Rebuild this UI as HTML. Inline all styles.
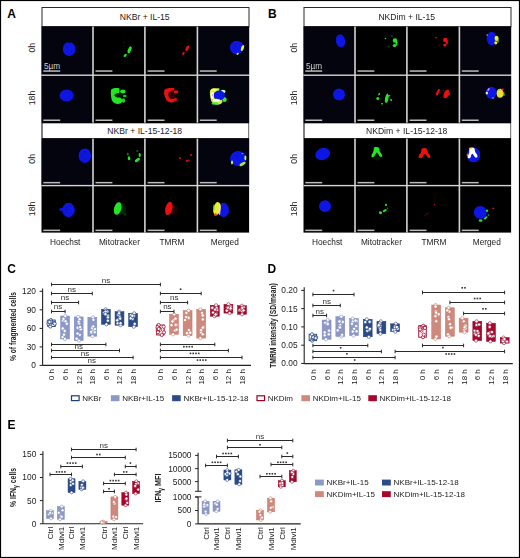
<!DOCTYPE html>
<html><head><meta charset="utf-8"><title>Figure</title>
<style>
html,body{margin:0;padding:0;background:#fff;}
body{width:520px;height:558px;overflow:hidden;font-family:"Liberation Sans",sans-serif;}
svg{display:block;}
text{font-family:"Liberation Sans",sans-serif;}
</style></head><body>
<svg width="520" height="558" viewBox="0 0 520 558" font-family="Liberation Sans, sans-serif"><defs><filter id="blur" x="-20%" y="-20%" width="140%" height="140%"><feGaussianBlur stdDeviation="0.45"/></filter></defs><rect x="0" y="0" width="520" height="558" fill="#fff"/>
<text x="7.20" y="17.60" font-size="12" text-anchor="start" fill="#000" font-weight="bold" >A</text>
<text x="268.00" y="17.60" font-size="12" text-anchor="start" fill="#000" font-weight="bold" >B</text>
<rect x="42.00" y="7.50" width="207.00" height="19.20" fill="#fff" stroke="#2a2a2a" stroke-width="1" />
<text x="144.70" y="19.80" font-size="8.6" text-anchor="middle" fill="#222" font-weight="normal" >NKBr + IL-15</text>
<rect x="41.50" y="26.60" width="207.60" height="206.00" fill="#000" stroke="none" stroke-width="0" />
<rect x="41.70" y="26.60" width="50.80" height="48.00" fill="#04040f" stroke="none" stroke-width="0" />
<rect x="41.70" y="76.00" width="50.80" height="46.70" fill="#04040f" stroke="none" stroke-width="0" />
<rect x="41.70" y="138.60" width="50.80" height="46.40" fill="#04040f" stroke="none" stroke-width="0" />
<rect x="198.20" y="26.60" width="50.90" height="48.00" fill="#04040f" stroke="none" stroke-width="0" />
<rect x="198.20" y="76.00" width="50.90" height="46.70" fill="#04040f" stroke="none" stroke-width="0" />
<rect x="198.20" y="138.60" width="50.90" height="46.40" fill="#04040f" stroke="none" stroke-width="0" />
<rect x="42.50" y="123.30" width="206.00" height="14.80" fill="#fff" stroke="none" stroke-width="0" />
<text x="144.70" y="134.00" font-size="8.6" text-anchor="middle" fill="#222" font-weight="normal" >NKBr + IL-15-12-18</text>
<rect x="92.20" y="26.60" width="1.60" height="96.10" fill="#d4d4d4" stroke="none" stroke-width="0" />
<rect x="144.10" y="26.60" width="1.60" height="96.10" fill="#d4d4d4" stroke="none" stroke-width="0" />
<rect x="196.60" y="26.60" width="1.60" height="96.10" fill="#d4d4d4" stroke="none" stroke-width="0" />
<rect x="92.20" y="138.60" width="1.60" height="94.00" fill="#d4d4d4" stroke="none" stroke-width="0" />
<rect x="144.10" y="138.60" width="1.60" height="94.00" fill="#d4d4d4" stroke="none" stroke-width="0" />
<rect x="196.60" y="138.60" width="1.60" height="94.00" fill="#d4d4d4" stroke="none" stroke-width="0" />
<rect x="41.50" y="74.50" width="207.60" height="1.40" fill="#d4d4d4" stroke="none" stroke-width="0" />
<rect x="41.50" y="184.90" width="207.60" height="1.40" fill="#d4d4d4" stroke="none" stroke-width="0" />
<rect x="43.30" y="70.30" width="16.90" height="1.50" fill="#bcbcbc" stroke="none" stroke-width="0" />
<rect x="95.50" y="70.30" width="16.90" height="1.50" fill="#bcbcbc" stroke="none" stroke-width="0" />
<rect x="147.60" y="70.30" width="16.90" height="1.50" fill="#bcbcbc" stroke="none" stroke-width="0" />
<rect x="199.80" y="70.30" width="16.90" height="1.50" fill="#bcbcbc" stroke="none" stroke-width="0" />
<rect x="43.30" y="119.50" width="16.90" height="1.50" fill="#bcbcbc" stroke="none" stroke-width="0" />
<rect x="95.50" y="119.50" width="16.90" height="1.50" fill="#bcbcbc" stroke="none" stroke-width="0" />
<rect x="147.60" y="119.50" width="16.90" height="1.50" fill="#bcbcbc" stroke="none" stroke-width="0" />
<rect x="199.80" y="119.50" width="16.90" height="1.50" fill="#bcbcbc" stroke="none" stroke-width="0" />
<rect x="43.30" y="181.90" width="16.90" height="1.50" fill="#bcbcbc" stroke="none" stroke-width="0" />
<rect x="95.50" y="181.90" width="16.90" height="1.50" fill="#bcbcbc" stroke="none" stroke-width="0" />
<rect x="147.60" y="181.90" width="16.90" height="1.50" fill="#bcbcbc" stroke="none" stroke-width="0" />
<rect x="199.80" y="181.90" width="16.90" height="1.50" fill="#bcbcbc" stroke="none" stroke-width="0" />
<rect x="43.30" y="229.60" width="16.90" height="1.50" fill="#bcbcbc" stroke="none" stroke-width="0" />
<rect x="95.50" y="229.60" width="16.90" height="1.50" fill="#bcbcbc" stroke="none" stroke-width="0" />
<rect x="147.60" y="229.60" width="16.90" height="1.50" fill="#bcbcbc" stroke="none" stroke-width="0" />
<rect x="199.80" y="229.60" width="16.90" height="1.50" fill="#bcbcbc" stroke="none" stroke-width="0" />
<text x="44.00" y="69.10" font-size="8.2" text-anchor="start" fill="#d0d0d0" font-weight="textLength="15.2" lengthAdjust="spacingAndGlyphs"" >5µm</text>
<g filter="url(#blur)">
<ellipse cx="69.1" cy="49.0" rx="6.3" ry="7.0" fill="#0b17e4" opacity="1" transform="rotate(0 69.1 49.0)"/>
<ellipse cx="67" cy="47" rx="1.6" ry="1.6" fill="#0610a8" opacity="0.5" transform="rotate(0 67 47)"/>
<ellipse cx="71.5" cy="51.5" rx="1.5" ry="1.2" fill="#0610a8" opacity="0.5" transform="rotate(0 71.5 51.5)"/>
<ellipse cx="69.5" cy="42.8" rx="1.3" ry="1.0" fill="#000" opacity="0.5" transform="rotate(0 69.5 42.8)"/>
<ellipse cx="129.6" cy="49.8" rx="1.6" ry="3.6" fill="#22e622" opacity="1" transform="rotate(22 129.6 49.8)"/>
<ellipse cx="125.2" cy="55.4" rx="1.1" ry="1.9" fill="#22e622" opacity="1" transform="rotate(45 125.2 55.4)"/>
<ellipse cx="124" cy="42.5" rx="0.6" ry="0.6" fill="#22e622" opacity="0.35" transform="rotate(0 124 42.5)"/>
<ellipse cx="124" cy="46" rx="0.6" ry="0.6" fill="#22e622" opacity="0.3" transform="rotate(0 124 46)"/>
<ellipse cx="187.3" cy="48.2" rx="1.4" ry="3.0" fill="#f01010" opacity="1" transform="rotate(25 187.3 48.2)"/>
<ellipse cx="183.4" cy="53.5" rx="1.1" ry="1.5" fill="#f01010" opacity="1" transform="rotate(40 183.4 53.5)"/>
<ellipse cx="236.7" cy="47.5" rx="6.8" ry="6.7" fill="#0b17e4" opacity="1" transform="rotate(0 236.7 47.5)"/>
<ellipse cx="235" cy="46" rx="1.8" ry="1.5" fill="#0610a8" opacity="0.5" transform="rotate(0 235 46)"/>
<ellipse cx="242.5" cy="48.0" rx="1.4" ry="3.1" fill="#e8f020" opacity="1" transform="rotate(20 242.5 48.0)"/>
<ellipse cx="237.7" cy="53.8" rx="1.3" ry="0.9" fill="#b0f040" opacity="1" transform="rotate(-40 237.7 53.8)"/>
<ellipse cx="66.6" cy="95.6" rx="7.1" ry="6.0" fill="#0b17e4" opacity="1" transform="rotate(0 66.6 95.6)"/>
<path d="M111,90 C112,88 117,87.5 119.5,88.5 L119,93 C117,93 115,93.5 114.5,95 C114.5,97 117,97.5 119,97.5 C121,97.5 122.5,99 122.5,101 C122,103 119,104.5 117,104 C114,103.5 112,101.5 111.5,99 C111,96 110.5,93 111,90 Z" fill="#22e622" opacity="1"/>
<ellipse cx="122.8" cy="91.4" rx="2.7" ry="2.0" fill="#22e622" opacity="1" transform="rotate(0 122.8 91.4)"/>
<ellipse cx="124.8" cy="96.0" rx="1.9" ry="1.3" fill="#22e622" opacity="0.8" transform="rotate(0 124.8 96.0)"/>
<ellipse cx="123.5" cy="100.5" rx="1.6" ry="2.2" fill="#22e622" opacity="0.9" transform="rotate(0 123.5 100.5)"/>
<ellipse cx="119" cy="95" rx="4" ry="3" fill="#22e622" opacity="0.15" transform="rotate(0 119 95)"/>
<path d="M164.5,90 C166,88 172,87.5 174.5,88.5 L174,90.5 C171,90.5 169.5,91.5 168.5,93 C168,95.5 168.5,97.5 170,98.5 C172,99 174,98.5 175,99.5 C175,101.5 173,102.8 170.5,102.5 C167.5,102 166,100 165,97 C164,94 163.8,92 164.5,90 Z" fill="#f01010" opacity="1"/>
<ellipse cx="176" cy="91.8" rx="2.2" ry="1.5" fill="#f01010" opacity="1" transform="rotate(0 176 91.8)"/>
<ellipse cx="175.5" cy="99.5" rx="1.5" ry="2.0" fill="#f01010" opacity="0.85" transform="rotate(0 175.5 99.5)"/>
<ellipse cx="172" cy="95" rx="4" ry="3.5" fill="#f01010" opacity="0.2" transform="rotate(0 172 95)"/>
<path d="M210,90.5 C211.5,88.2 216.5,87.8 219.5,88.6 L219,92.5 C217,92.5 215,93.5 214.5,95 C214.5,97 217,98 219,98.5 C221,98.5 222.5,100 222.5,102 C222,104 218.5,105 216,104.5 C213,104 211.2,102 210.8,99.5 C210.3,96.5 209.5,93.5 210,90.5 Z" fill="#c8f040" opacity="1"/>
<ellipse cx="224.5" cy="99.5" rx="2.2" ry="2.5" fill="#40e040" opacity="1" transform="rotate(0 224.5 99.5)"/>
<ellipse cx="223" cy="91.5" rx="2.6" ry="1.8" fill="#c0fff0" opacity="1" transform="rotate(0 223 91.5)"/>
<ellipse cx="219.2" cy="95.4" rx="5.8" ry="4.8" fill="#0b17e4" opacity="1" transform="rotate(0 219.2 95.4)"/>
<ellipse cx="212.3" cy="95.5" rx="1.6" ry="3.4" fill="#ffffff" opacity="0.9" transform="rotate(0 212.3 95.5)"/>
<ellipse cx="212.6" cy="95.3" rx="0.8" ry="1.4" fill="#ff80ff" opacity="0.8" transform="rotate(0 212.6 95.3)"/>
<ellipse cx="216.5" cy="100.2" rx="3.5" ry="1.5" fill="#ffffff" opacity="0.85" transform="rotate(0 216.5 100.2)"/>
<ellipse cx="214" cy="89.8" rx="3" ry="1.6" fill="#f0ff60" opacity="0.9" transform="rotate(0 214 89.8)"/>
<ellipse cx="215" cy="103.5" rx="3.5" ry="1.2" fill="#40f040" opacity="0.9" transform="rotate(0 215 103.5)"/>
<ellipse cx="84.8" cy="155.7" rx="6.2" ry="7.2" fill="#0b17e4" opacity="1" transform="rotate(0 84.8 155.7)"/>
<ellipse cx="84.5" cy="152.5" rx="1.8" ry="1.5" fill="#0610a8" opacity="0.55" transform="rotate(0 84.5 152.5)"/>
<ellipse cx="85.5" cy="158.5" rx="1.5" ry="1.3" fill="#0610a8" opacity="0.55" transform="rotate(0 85.5 158.5)"/>
<ellipse cx="82" cy="156" rx="1.2" ry="2" fill="#0610a8" opacity="0.4" transform="rotate(0 82 156)"/>
<ellipse cx="129.0" cy="158.2" rx="1.3" ry="2.0" fill="#22e622" opacity="1" transform="rotate(0 129.0 158.2)"/>
<ellipse cx="127.8" cy="154.0" rx="0.9" ry="1.5" fill="#22e622" opacity="0.55" transform="rotate(0 127.8 154.0)"/>
<ellipse cx="139.7" cy="154.9" rx="1.1" ry="2.0" fill="#22e622" opacity="1" transform="rotate(0 139.7 154.9)"/>
<ellipse cx="137.3" cy="151.0" rx="1.1" ry="0.8" fill="#22e622" opacity="0.6" transform="rotate(0 137.3 151.0)"/>
<ellipse cx="137.4" cy="159.9" rx="3.0" ry="1.5" fill="#22e622" opacity="1" transform="rotate(-35 137.4 159.9)"/>
<ellipse cx="180" cy="158" rx="0.9" ry="0.9" fill="#f01010" opacity="1" transform="rotate(0 180 158)"/>
<ellipse cx="187" cy="161" rx="1.1" ry="0.9" fill="#f01010" opacity="1" transform="rotate(0 187 161)"/>
<ellipse cx="188.8" cy="160.2" rx="0.8" ry="0.7" fill="#f01010" opacity="1" transform="rotate(0 188.8 160.2)"/>
<ellipse cx="191" cy="155" rx="0.9" ry="1.0" fill="#f01010" opacity="1" transform="rotate(0 191 155)"/>
<ellipse cx="238.1" cy="158.5" rx="8.0" ry="7.6" fill="#0b17e4" opacity="1" transform="rotate(0 238.1 158.5)"/>
<ellipse cx="237" cy="156" rx="2" ry="1.8" fill="#0610a8" opacity="0.4" transform="rotate(0 237 156)"/>
<ellipse cx="232.0" cy="162.4" rx="1.0" ry="2.0" fill="#b0ff40" opacity="1" transform="rotate(0 232.0 162.4)"/>
<ellipse cx="245.4" cy="158.0" rx="1.0" ry="2.4" fill="#c0ff40" opacity="1" transform="rotate(0 245.4 158.0)"/>
<ellipse cx="242.6" cy="164.0" rx="3.4" ry="1.4" fill="#a0f030" opacity="1" transform="rotate(-30 242.6 164.0)"/>
<ellipse cx="242.5" cy="153.5" rx="1.2" ry="0.8" fill="#40e0c0" opacity="0.6" transform="rotate(0 242.5 153.5)"/>
<ellipse cx="68.5" cy="210.0" rx="6.3" ry="7.2" fill="#0b17e4" opacity="1" transform="rotate(0 68.5 210.0)"/>
<ellipse cx="61.5" cy="209.5" rx="2.2" ry="1.4" fill="#0b17e4" opacity="1" transform="rotate(0 61.5 209.5)"/>
<ellipse cx="66.5" cy="209" rx="1.8" ry="2.2" fill="#0610a8" opacity="0.6" transform="rotate(0 66.5 209)"/>
<ellipse cx="70" cy="205.5" rx="1.5" ry="1.2" fill="#0610a8" opacity="0.5" transform="rotate(0 70 205.5)"/>
<ellipse cx="71" cy="213.5" rx="1.6" ry="1.3" fill="#0610a8" opacity="0.4" transform="rotate(0 71 213.5)"/>
<ellipse cx="117.7" cy="208.5" rx="3.6" ry="6.5" fill="#22e622" opacity="1" transform="rotate(15 117.7 208.5)"/>
<ellipse cx="122" cy="209" rx="4" ry="6" fill="#22e622" opacity="0.15" transform="rotate(0 122 209)"/>
<ellipse cx="125" cy="214.5" rx="1" ry="1" fill="#22e622" opacity="0.35" transform="rotate(0 125 214.5)"/>
<ellipse cx="168.8" cy="208.5" rx="3.4" ry="6.7" fill="#f01010" opacity="1" transform="rotate(15 168.8 208.5)"/>
<ellipse cx="173.5" cy="209.5" rx="4" ry="5.5" fill="#f01010" opacity="0.15" transform="rotate(0 173.5 209.5)"/>
<ellipse cx="223.5" cy="210.0" rx="5.5" ry="7.2" fill="#0b17e4" opacity="1" transform="rotate(0 223.5 210.0)"/>
<ellipse cx="217.0" cy="208.7" rx="3.6" ry="6.7" fill="#e8f020" opacity="1" transform="rotate(12 217.0 208.7)"/>
<ellipse cx="219.5" cy="209.5" rx="1.0" ry="5.5" fill="#ffd0ff" opacity="0.8" transform="rotate(0 219.5 209.5)"/>
<ellipse cx="215.5" cy="214.5" rx="1.5" ry="1.5" fill="#ff4020" opacity="0.8" transform="rotate(0 215.5 214.5)"/>
<ellipse cx="213.8" cy="207.5" rx="0.8" ry="3" fill="#40e040" opacity="0.8" transform="rotate(0 213.8 207.5)"/>
</g>
<text transform="translate(34.60,47.70) rotate(-90)" font-size="8.8" text-anchor="middle" fill="#222" >0h</text>
<text transform="translate(34.60,98.00) rotate(-90)" font-size="8.8" text-anchor="middle" fill="#222" >18h</text>
<text transform="translate(34.60,158.80) rotate(-90)" font-size="8.8" text-anchor="middle" fill="#222" >0h</text>
<text transform="translate(34.60,208.90) rotate(-90)" font-size="8.8" text-anchor="middle" fill="#222" >18h</text>
<text x="65.20" y="245.20" font-size="8.3" text-anchor="middle" fill="#222" font-weight="normal" >Hoechst</text>
<text x="119.40" y="245.20" font-size="8.3" text-anchor="middle" fill="#222" font-weight="normal" >Mitotracker</text>
<text x="172.00" y="245.20" font-size="8.3" text-anchor="middle" fill="#222" font-weight="normal" >TMRM</text>
<text x="224.80" y="245.20" font-size="8.3" text-anchor="middle" fill="#222" font-weight="normal" >Merged</text>
<rect x="304.00" y="7.50" width="207.00" height="19.20" fill="#fff" stroke="#2a2a2a" stroke-width="1" />
<text x="406.70" y="19.80" font-size="8.6" text-anchor="middle" fill="#222" font-weight="normal" >NKDim + IL-15</text>
<rect x="303.50" y="26.60" width="207.60" height="206.00" fill="#000" stroke="none" stroke-width="0" />
<rect x="303.70" y="26.60" width="50.80" height="48.00" fill="#04040f" stroke="none" stroke-width="0" />
<rect x="303.70" y="76.00" width="50.80" height="46.70" fill="#04040f" stroke="none" stroke-width="0" />
<rect x="460.20" y="26.60" width="50.90" height="48.00" fill="#04040f" stroke="none" stroke-width="0" />
<rect x="460.20" y="76.00" width="50.90" height="46.70" fill="#04040f" stroke="none" stroke-width="0" />
<rect x="304.50" y="123.30" width="206.00" height="14.80" fill="#fff" stroke="none" stroke-width="0" />
<text x="406.70" y="134.00" font-size="8.6" text-anchor="middle" fill="#222" font-weight="normal" >NKDim + IL-15-12-18</text>
<rect x="354.20" y="26.60" width="1.60" height="96.10" fill="#d4d4d4" stroke="none" stroke-width="0" />
<rect x="406.10" y="26.60" width="1.60" height="96.10" fill="#d4d4d4" stroke="none" stroke-width="0" />
<rect x="458.60" y="26.60" width="1.60" height="96.10" fill="#d4d4d4" stroke="none" stroke-width="0" />
<rect x="354.20" y="138.60" width="1.60" height="94.00" fill="#d4d4d4" stroke="none" stroke-width="0" />
<rect x="406.10" y="138.60" width="1.60" height="94.00" fill="#d4d4d4" stroke="none" stroke-width="0" />
<rect x="458.60" y="138.60" width="1.60" height="94.00" fill="#d4d4d4" stroke="none" stroke-width="0" />
<rect x="303.50" y="74.50" width="207.60" height="1.40" fill="#d4d4d4" stroke="none" stroke-width="0" />
<rect x="303.50" y="184.90" width="207.60" height="1.40" fill="#d4d4d4" stroke="none" stroke-width="0" />
<rect x="305.30" y="70.30" width="16.90" height="1.50" fill="#bcbcbc" stroke="none" stroke-width="0" />
<rect x="357.50" y="70.30" width="16.90" height="1.50" fill="#bcbcbc" stroke="none" stroke-width="0" />
<rect x="409.60" y="70.30" width="16.90" height="1.50" fill="#bcbcbc" stroke="none" stroke-width="0" />
<rect x="461.80" y="70.30" width="16.90" height="1.50" fill="#bcbcbc" stroke="none" stroke-width="0" />
<rect x="305.30" y="119.50" width="16.90" height="1.50" fill="#bcbcbc" stroke="none" stroke-width="0" />
<rect x="357.50" y="119.50" width="16.90" height="1.50" fill="#bcbcbc" stroke="none" stroke-width="0" />
<rect x="409.60" y="119.50" width="16.90" height="1.50" fill="#bcbcbc" stroke="none" stroke-width="0" />
<rect x="461.80" y="119.50" width="16.90" height="1.50" fill="#bcbcbc" stroke="none" stroke-width="0" />
<rect x="305.30" y="181.90" width="16.90" height="1.50" fill="#bcbcbc" stroke="none" stroke-width="0" />
<rect x="357.50" y="181.90" width="16.90" height="1.50" fill="#bcbcbc" stroke="none" stroke-width="0" />
<rect x="409.60" y="181.90" width="16.90" height="1.50" fill="#bcbcbc" stroke="none" stroke-width="0" />
<rect x="461.80" y="181.90" width="16.90" height="1.50" fill="#bcbcbc" stroke="none" stroke-width="0" />
<rect x="305.30" y="229.60" width="16.90" height="1.50" fill="#bcbcbc" stroke="none" stroke-width="0" />
<rect x="357.50" y="229.60" width="16.90" height="1.50" fill="#bcbcbc" stroke="none" stroke-width="0" />
<rect x="409.60" y="229.60" width="16.90" height="1.50" fill="#bcbcbc" stroke="none" stroke-width="0" />
<rect x="461.80" y="229.60" width="16.90" height="1.50" fill="#bcbcbc" stroke="none" stroke-width="0" />
<text x="306.00" y="69.10" font-size="8.2" text-anchor="start" fill="#d0d0d0" font-weight="textLength="15.2" lengthAdjust="spacingAndGlyphs"" >5µm</text>
<g filter="url(#blur)">
<ellipse cx="340.5" cy="40.8" rx="4.7" ry="6.5" fill="#0b17e4" opacity="1" transform="rotate(-10 340.5 40.8)"/>
<ellipse cx="395.0" cy="40.5" rx="2.2" ry="2.3" fill="#22e622" opacity="1" transform="rotate(0 395.0 40.5)"/>
<ellipse cx="394.5" cy="45.5" rx="1.8" ry="1.6" fill="#22e622" opacity="1" transform="rotate(0 394.5 45.5)"/>
<ellipse cx="396.5" cy="43.0" rx="1.0" ry="2.5" fill="#22e622" opacity="1" transform="rotate(0 396.5 43.0)"/>
<ellipse cx="385.5" cy="38.5" rx="0.8" ry="0.8" fill="#22e622" opacity="1" transform="rotate(0 385.5 38.5)"/>
<ellipse cx="388.5" cy="46.5" rx="1.2" ry="0.8" fill="#22e622" opacity="0.35" transform="rotate(40 388.5 46.5)"/>
<ellipse cx="392" cy="36" rx="1.2" ry="0.7" fill="#22e622" opacity="0.3" transform="rotate(0 392 36)"/>
<ellipse cx="445.3" cy="40.0" rx="2.2" ry="2.2" fill="#f01010" opacity="1" transform="rotate(0 445.3 40.0)"/>
<ellipse cx="444.8" cy="45.0" rx="1.6" ry="1.5" fill="#f01010" opacity="1" transform="rotate(0 444.8 45.0)"/>
<ellipse cx="446.8" cy="42.0" rx="1.1" ry="2.5" fill="#f01010" opacity="1" transform="rotate(0 446.8 42.0)"/>
<ellipse cx="436.0" cy="37.8" rx="1.0" ry="0.8" fill="#f01010" opacity="0.8" transform="rotate(0 436.0 37.8)"/>
<ellipse cx="439" cy="45.5" rx="1.2" ry="0.7" fill="#f01010" opacity="0.4" transform="rotate(40 439 45.5)"/>
<ellipse cx="491.7" cy="38.5" rx="5.0" ry="6.7" fill="#0b17e4" opacity="1" transform="rotate(0 491.7 38.5)"/>
<ellipse cx="496.6" cy="38.4" rx="2.0" ry="2.6" fill="#e8f020" opacity="1" transform="rotate(0 496.6 38.4)"/>
<ellipse cx="495.8" cy="42.8" rx="1.5" ry="1.6" fill="#e8f020" opacity="1" transform="rotate(0 495.8 42.8)"/>
<ellipse cx="498" cy="41" rx="0.8" ry="1.8" fill="#80e040" opacity="0.8" transform="rotate(0 498 41)"/>
<ellipse cx="495.5" cy="37.3" rx="0.8" ry="0.8" fill="#ffffff" opacity="0.8" transform="rotate(0 495.5 37.3)"/>
<ellipse cx="487.2" cy="35.0" rx="0.8" ry="0.8" fill="#ffd080" opacity="0.8" transform="rotate(0 487.2 35.0)"/>
<ellipse cx="339" cy="94.4" rx="6.0" ry="6.0" fill="#0b17e4" opacity="1" transform="rotate(0 339 94.4)"/>
<ellipse cx="377.8" cy="98.5" rx="1.5" ry="1.6" fill="#22e622" opacity="1" transform="rotate(0 377.8 98.5)"/>
<ellipse cx="379.2" cy="94.2" rx="0.8" ry="1.5" fill="#22e622" opacity="1" transform="rotate(30 379.2 94.2)"/>
<ellipse cx="382.1" cy="103.7" rx="1.1" ry="0.8" fill="#22e622" opacity="1" transform="rotate(0 382.1 103.7)"/>
<ellipse cx="386.7" cy="98.6" rx="1.7" ry="4.3" fill="#22e622" opacity="1" transform="rotate(10 386.7 98.6)"/>
<ellipse cx="388.5" cy="96" rx="2" ry="0.8" fill="#22e622" opacity="1" transform="rotate(-20 388.5 96)"/>
<ellipse cx="387.5" cy="94.8" rx="0.8" ry="1.3" fill="#22e622" opacity="1" transform="rotate(0 387.5 94.8)"/>
<ellipse cx="391.2" cy="100" rx="1.0" ry="1.1" fill="#22e622" opacity="1" transform="rotate(0 391.2 100)"/>
<ellipse cx="437.9" cy="92.2" rx="1.2" ry="3.6" fill="#f01010" opacity="1" transform="rotate(25 437.9 92.2)"/>
<ellipse cx="446.3" cy="94.0" rx="2.4" ry="4.5" fill="#f01010" opacity="1" transform="rotate(20 446.3 94.0)"/>
<ellipse cx="448.5" cy="93.5" rx="1.5" ry="1.5" fill="#f01010" opacity="1" transform="rotate(0 448.5 93.5)"/>
<ellipse cx="443.3" cy="90.5" rx="0.8" ry="0.8" fill="#f01010" opacity="0.6" transform="rotate(0 443.3 90.5)"/>
<ellipse cx="491.3" cy="92.9" rx="5.4" ry="6.2" fill="#0b17e4" opacity="1" transform="rotate(0 491.3 92.9)"/>
<ellipse cx="500.0" cy="93.2" rx="3.3" ry="4.5" fill="#f0e030" opacity="1" transform="rotate(0 500.0 93.2)"/>
<ellipse cx="502.5" cy="89.5" rx="1.3" ry="1.0" fill="#ff2010" opacity="1" transform="rotate(0 502.5 89.5)"/>
<ellipse cx="499" cy="97.5" rx="1.0" ry="0.8" fill="#ff4010" opacity="1" transform="rotate(0 499 97.5)"/>
<ellipse cx="503.5" cy="93" rx="1.0" ry="1.0" fill="#ff8020" opacity="1" transform="rotate(0 503.5 93)"/>
<ellipse cx="503.8" cy="94.7" rx="1.0" ry="1.0" fill="#22e622" opacity="1" transform="rotate(0 503.8 94.7)"/>
<ellipse cx="499" cy="89.8" rx="0.8" ry="0.8" fill="#22e622" opacity="1" transform="rotate(0 499 89.8)"/>
<ellipse cx="486.8" cy="93" rx="1.2" ry="1.5" fill="#ffffa0" opacity="0.9" transform="rotate(0 486.8 93)"/>
<ellipse cx="488.5" cy="89.5" rx="0.8" ry="1.6" fill="#ffc0ff" opacity="0.8" transform="rotate(40 488.5 89.5)"/>
<ellipse cx="493" cy="98" rx="0.9" ry="0.9" fill="#20d0ff" opacity="0.8" transform="rotate(0 493 98)"/>
<ellipse cx="322.7" cy="154" rx="7.6" ry="5.9" fill="#0b17e4" opacity="1" transform="rotate(-20 322.7 154)"/>
<path d="M374,147.5 C375.5,146.8 378,146.8 379,148 C379.8,149.5 379.5,151 380,152 C381,153 382.3,154.5 382.2,156 C381.8,157.3 380.2,157.2 379.5,156.2 C378.8,155 377.8,153.3 376.8,152.6 C376,153.3 375.2,154.5 374.8,155.8 C374.3,157 372.8,157.6 371.8,157 C371,156.2 371.5,154.8 372.2,153.8 C373,152.6 373.5,151.4 373.7,150.2 C373.8,149.2 373.6,148.2 374,147.5 Z" fill="#22e622" opacity="1"/>
<ellipse cx="377" cy="158.5" rx="3" ry="2" fill="#22e622" opacity="0.12" transform="rotate(0 377 158.5)"/>
<path d="M421.7,148.8 C423,147.8 426,147.8 427,149.2 C427.6,150.5 427.4,152 428,153 C429,154 430.4,155.5 430.3,157 C429.9,158.3 428.3,158.2 427.5,157.2 C426.8,156 425.8,154.6 424.8,154 C423.8,154.6 423,155.8 422.5,157 C421.8,158.3 420,158.5 419,157.8 C418.2,157 418.5,155.6 419.4,154.6 C420.3,153.6 421,152.6 421.3,151.4 C421.5,150.4 421.2,149.5 421.7,148.8 Z" fill="#f01010" opacity="1"/>
<ellipse cx="473.5" cy="154.9" rx="6.75" ry="7.4" fill="#0b17e4" opacity="1" transform="rotate(0 473.5 154.9)"/>
<path d="M469.8,148.3 C471,147.3 473.5,147.4 474.4,148.6 C475,150 474.8,151.4 475.4,152.4 C476.3,153.4 477.6,155 477.5,156.6 C477.2,158 475.6,158 474.8,157 C474.1,155.8 473.2,154.4 472.3,153.8 C471.4,154.4 471,155.6 470.8,156.8 C470.5,158.2 468.8,158.8 468,158 C467.4,157.2 467.8,155.8 468.4,154.8 C469,153.6 469.3,152.4 469.3,151.2 C469.3,150.2 469.2,149.1 469.8,148.3 Z" fill="#fffff4" opacity="1"/>
<ellipse cx="470.5" cy="148.5" rx="1.6" ry="1.0" fill="#ffd040" opacity="0.8" transform="rotate(0 470.5 148.5)"/>
<ellipse cx="467.5" cy="155" rx="0.9" ry="1.3" fill="#ff9030" opacity="0.7" transform="rotate(0 467.5 155)"/>
<ellipse cx="325" cy="206.2" rx="6.0" ry="5.9" fill="#0b17e4" opacity="1" transform="rotate(0 325 206.2)"/>
<ellipse cx="386.0" cy="204.9" rx="1.1" ry="1.1" fill="#22e622" opacity="1" transform="rotate(0 386.0 204.9)"/>
<ellipse cx="387.5" cy="208.25" rx="0.8" ry="0.8" fill="#22e622" opacity="0.6" transform="rotate(0 387.5 208.25)"/>
<ellipse cx="384.75" cy="210.6" rx="2.2" ry="1.1" fill="#22e622" opacity="1" transform="rotate(-30 384.75 210.6)"/>
<ellipse cx="380.5" cy="212.75" rx="1.7" ry="1.3" fill="#22e622" opacity="1" transform="rotate(20 380.5 212.75)"/>
<ellipse cx="427" cy="214" rx="0.9" ry="0.9" fill="#f01010" opacity="0.5" transform="rotate(0 427 214)"/>
<ellipse cx="425" cy="215.5" rx="0.8" ry="0.6" fill="#f01010" opacity="0.4" transform="rotate(0 425 215.5)"/>
<ellipse cx="434.6" cy="204.6" rx="0.8" ry="0.8" fill="#f01010" opacity="0.8" transform="rotate(0 434.6 204.6)"/>
<ellipse cx="429" cy="212" rx="0.6" ry="0.6" fill="#f01010" opacity="0.4" transform="rotate(0 429 212)"/>
<ellipse cx="480.3" cy="212.4" rx="6.5" ry="6.4" fill="#0b17e4" opacity="1" transform="rotate(0 480.3 212.4)"/>
<ellipse cx="487.0" cy="210.8" rx="1.1" ry="1.2" fill="#22e622" opacity="1" transform="rotate(0 487.0 210.8)"/>
<ellipse cx="488.5" cy="215.0" rx="0.9" ry="0.9" fill="#22e622" opacity="0.6" transform="rotate(0 488.5 215.0)"/>
<ellipse cx="486.3" cy="217.3" rx="1.5" ry="0.9" fill="#22e622" opacity="1" transform="rotate(-30 486.3 217.3)"/>
<ellipse cx="485.0" cy="218.5" rx="1.3" ry="1.0" fill="#22e622" opacity="1" transform="rotate(0 485.0 218.5)"/>
<ellipse cx="480.6" cy="220.5" rx="1.8" ry="1.3" fill="#22e622" opacity="1" transform="rotate(0 480.6 220.5)"/>
<ellipse cx="493.3" cy="208.3" rx="0.9" ry="0.9" fill="#f01010" opacity="1" transform="rotate(0 493.3 208.3)"/>
</g>
<text transform="translate(297.30,47.70) rotate(-90)" font-size="8.8" text-anchor="middle" fill="#222" >0h</text>
<text transform="translate(297.30,98.00) rotate(-90)" font-size="8.8" text-anchor="middle" fill="#222" >18h</text>
<text transform="translate(297.30,158.80) rotate(-90)" font-size="8.8" text-anchor="middle" fill="#222" >0h</text>
<text transform="translate(297.30,208.90) rotate(-90)" font-size="8.8" text-anchor="middle" fill="#222" >18h</text>
<text x="327.20" y="245.20" font-size="8.3" text-anchor="middle" fill="#222" font-weight="normal" >Hoechst</text>
<text x="381.40" y="245.20" font-size="8.3" text-anchor="middle" fill="#222" font-weight="normal" >Mitotracker</text>
<text x="434.00" y="245.20" font-size="8.3" text-anchor="middle" fill="#222" font-weight="normal" >TMRM</text>
<text x="486.80" y="245.20" font-size="8.3" text-anchor="middle" fill="#222" font-weight="normal" >Merged</text>
<text x="7.20" y="273.20" font-size="12" text-anchor="start" fill="#000" font-weight="bold" >C</text>
<text x="267.60" y="273.20" font-size="12" text-anchor="start" fill="#000" font-weight="bold" >D</text>
<text x="7.60" y="429.20" font-size="12" text-anchor="start" fill="#000" font-weight="bold" >E</text>
<line x1="42.60" y1="288.40" x2="42.60" y2="365.60" stroke="#222" stroke-width="1.1"/>
<line x1="39.60" y1="291.30" x2="42.60" y2="291.30" stroke="#222" stroke-width="1.0"/>
<text x="36.00" y="294.20" font-size="8.4" text-anchor="end" fill="#222" font-weight="normal" >120</text>
<line x1="39.60" y1="309.80" x2="42.60" y2="309.80" stroke="#222" stroke-width="1.0"/>
<text x="36.00" y="312.70" font-size="8.4" text-anchor="end" fill="#222" font-weight="normal" >90</text>
<line x1="39.60" y1="328.40" x2="42.60" y2="328.40" stroke="#222" stroke-width="1.0"/>
<text x="36.00" y="331.30" font-size="8.4" text-anchor="end" fill="#222" font-weight="normal" >60</text>
<line x1="39.60" y1="346.90" x2="42.60" y2="346.90" stroke="#222" stroke-width="1.0"/>
<text x="36.00" y="349.80" font-size="8.4" text-anchor="end" fill="#222" font-weight="normal" >30</text>
<line x1="39.60" y1="365.40" x2="42.60" y2="365.40" stroke="#222" stroke-width="1.0"/>
<text x="36.00" y="368.30" font-size="8.4" text-anchor="end" fill="#222" font-weight="normal" >0</text>
<line x1="42.60" y1="365.40" x2="251.00" y2="365.40" stroke="#222" stroke-width="1.1"/>
<rect x="47.75" y="320.05" width="7.50" height="6.40" fill="#fff" stroke="#1e3b7c" stroke-width="0.9" />
<circle cx="50.87" cy="320.05" r="1.6" fill="#fff" stroke="#1e3b7c" stroke-width="0.75"/>
<circle cx="50.24" cy="326.45" r="1.6" fill="#fff" stroke="#1e3b7c" stroke-width="0.75"/>
<circle cx="48.42" cy="323.76" r="1.6" fill="#fff" stroke="#1e3b7c" stroke-width="0.75"/>
<circle cx="50.53" cy="323.37" r="1.6" fill="#fff" stroke="#1e3b7c" stroke-width="0.75"/>
<circle cx="51.55" cy="321.75" r="1.6" fill="#fff" stroke="#1e3b7c" stroke-width="0.75"/>
<circle cx="51.02" cy="321.68" r="1.6" fill="#fff" stroke="#1e3b7c" stroke-width="0.75"/>
<circle cx="48.55" cy="321.79" r="1.6" fill="#fff" stroke="#1e3b7c" stroke-width="0.75"/>
<circle cx="53.85" cy="322.99" r="1.6" fill="#fff" stroke="#1e3b7c" stroke-width="0.75"/>
<circle cx="49.51" cy="321.97" r="1.6" fill="#fff" stroke="#1e3b7c" stroke-width="0.75"/>
<circle cx="54.72" cy="323.68" r="1.6" fill="#fff" stroke="#1e3b7c" stroke-width="0.75"/>
<rect x="60.65" y="316.05" width="8.90" height="22.90" fill="#8c98c6" stroke="#7c89bd" stroke-width="0.5" />
<circle cx="65.31" cy="316.05" r="1.6" fill="#fff" stroke="#7c89bd" stroke-width="0.55"/>
<circle cx="64.82" cy="338.95" r="1.6" fill="#fff" stroke="#7c89bd" stroke-width="0.55"/>
<circle cx="62.65" cy="336.98" r="1.6" fill="#fff" stroke="#7c89bd" stroke-width="0.55"/>
<circle cx="63.96" cy="334.63" r="1.6" fill="#fff" stroke="#7c89bd" stroke-width="0.55"/>
<circle cx="63.04" cy="320.42" r="1.6" fill="#fff" stroke="#7c89bd" stroke-width="0.55"/>
<circle cx="66.81" cy="323.69" r="1.6" fill="#fff" stroke="#7c89bd" stroke-width="0.55"/>
<circle cx="65.54" cy="321.15" r="1.6" fill="#fff" stroke="#7c89bd" stroke-width="0.55"/>
<circle cx="64.41" cy="330.26" r="1.6" fill="#fff" stroke="#7c89bd" stroke-width="0.55"/>
<circle cx="62.74" cy="328.45" r="1.6" fill="#fff" stroke="#7c89bd" stroke-width="0.55"/>
<circle cx="63.51" cy="318.74" r="1.6" fill="#fff" stroke="#7c89bd" stroke-width="0.55"/>
<circle cx="64.71" cy="331.09" r="1.6" fill="#fff" stroke="#7c89bd" stroke-width="0.55"/>
<rect x="74.25" y="316.90" width="8.90" height="23.70" fill="#8c98c6" stroke="#7c89bd" stroke-width="0.5" />
<circle cx="78.20" cy="316.90" r="1.6" fill="#fff" stroke="#7c89bd" stroke-width="0.55"/>
<circle cx="78.93" cy="340.60" r="1.6" fill="#fff" stroke="#7c89bd" stroke-width="0.55"/>
<circle cx="77.62" cy="327.78" r="1.6" fill="#fff" stroke="#7c89bd" stroke-width="0.55"/>
<circle cx="79.77" cy="334.84" r="1.6" fill="#fff" stroke="#7c89bd" stroke-width="0.55"/>
<circle cx="79.10" cy="323.45" r="1.6" fill="#fff" stroke="#7c89bd" stroke-width="0.55"/>
<circle cx="80.73" cy="329.27" r="1.6" fill="#fff" stroke="#7c89bd" stroke-width="0.55"/>
<circle cx="77.55" cy="333.50" r="1.6" fill="#fff" stroke="#7c89bd" stroke-width="0.55"/>
<circle cx="76.64" cy="338.69" r="1.6" fill="#fff" stroke="#7c89bd" stroke-width="0.55"/>
<circle cx="80.09" cy="327.06" r="1.6" fill="#fff" stroke="#7c89bd" stroke-width="0.55"/>
<circle cx="78.64" cy="321.55" r="1.6" fill="#fff" stroke="#7c89bd" stroke-width="0.55"/>
<circle cx="79.61" cy="319.21" r="1.6" fill="#fff" stroke="#7c89bd" stroke-width="0.55"/>
<rect x="87.85" y="317.30" width="8.90" height="18.90" fill="#8c98c6" stroke="#7c89bd" stroke-width="0.5" />
<circle cx="93.01" cy="317.30" r="1.6" fill="#fff" stroke="#7c89bd" stroke-width="0.55"/>
<circle cx="92.50" cy="336.20" r="1.6" fill="#fff" stroke="#7c89bd" stroke-width="0.55"/>
<circle cx="91.29" cy="332.72" r="1.6" fill="#fff" stroke="#7c89bd" stroke-width="0.55"/>
<circle cx="92.81" cy="329.86" r="1.6" fill="#fff" stroke="#7c89bd" stroke-width="0.55"/>
<circle cx="92.06" cy="328.02" r="1.6" fill="#fff" stroke="#7c89bd" stroke-width="0.55"/>
<circle cx="94.70" cy="332.16" r="1.6" fill="#fff" stroke="#7c89bd" stroke-width="0.55"/>
<circle cx="93.19" cy="326.34" r="1.6" fill="#fff" stroke="#7c89bd" stroke-width="0.55"/>
<circle cx="93.39" cy="319.76" r="1.6" fill="#fff" stroke="#7c89bd" stroke-width="0.55"/>
<circle cx="94.96" cy="329.09" r="1.6" fill="#fff" stroke="#7c89bd" stroke-width="0.55"/>
<circle cx="91.14" cy="331.87" r="1.6" fill="#fff" stroke="#7c89bd" stroke-width="0.55"/>
<rect x="101.45" y="309.30" width="8.90" height="15.00" fill="#2a4a88" stroke="#1e3b7c" stroke-width="0.5" />
<circle cx="105.59" cy="309.30" r="1.6" fill="#fff" stroke="#1e3b7c" stroke-width="0.55"/>
<circle cx="106.36" cy="324.30" r="1.6" fill="#fff" stroke="#1e3b7c" stroke-width="0.55"/>
<circle cx="105.69" cy="311.07" r="1.6" fill="#fff" stroke="#1e3b7c" stroke-width="0.55"/>
<circle cx="103.83" cy="312.82" r="1.6" fill="#fff" stroke="#1e3b7c" stroke-width="0.55"/>
<circle cx="107.35" cy="311.51" r="1.6" fill="#fff" stroke="#1e3b7c" stroke-width="0.55"/>
<circle cx="104.54" cy="312.35" r="1.6" fill="#fff" stroke="#1e3b7c" stroke-width="0.55"/>
<circle cx="107.91" cy="315.49" r="1.6" fill="#fff" stroke="#1e3b7c" stroke-width="0.55"/>
<circle cx="105.63" cy="311.77" r="1.6" fill="#fff" stroke="#1e3b7c" stroke-width="0.55"/>
<circle cx="107.97" cy="317.39" r="1.6" fill="#fff" stroke="#1e3b7c" stroke-width="0.55"/>
<circle cx="107.87" cy="320.63" r="1.6" fill="#fff" stroke="#1e3b7c" stroke-width="0.55"/>
<circle cx="105.44" cy="314.14" r="1.6" fill="#fff" stroke="#1e3b7c" stroke-width="0.55"/>
<rect x="115.05" y="311.70" width="8.90" height="13.50" fill="#2a4a88" stroke="#1e3b7c" stroke-width="0.5" />
<circle cx="119.12" cy="311.70" r="1.6" fill="#fff" stroke="#1e3b7c" stroke-width="0.55"/>
<circle cx="120.54" cy="325.20" r="1.6" fill="#fff" stroke="#1e3b7c" stroke-width="0.55"/>
<circle cx="117.61" cy="323.26" r="1.6" fill="#fff" stroke="#1e3b7c" stroke-width="0.55"/>
<circle cx="118.05" cy="315.05" r="1.6" fill="#fff" stroke="#1e3b7c" stroke-width="0.55"/>
<circle cx="119.42" cy="315.65" r="1.6" fill="#fff" stroke="#1e3b7c" stroke-width="0.55"/>
<circle cx="118.22" cy="319.39" r="1.6" fill="#fff" stroke="#1e3b7c" stroke-width="0.55"/>
<circle cx="119.06" cy="313.24" r="1.6" fill="#fff" stroke="#1e3b7c" stroke-width="0.55"/>
<circle cx="119.86" cy="317.08" r="1.6" fill="#fff" stroke="#1e3b7c" stroke-width="0.55"/>
<circle cx="120.53" cy="323.21" r="1.6" fill="#fff" stroke="#1e3b7c" stroke-width="0.55"/>
<circle cx="120.14" cy="318.61" r="1.6" fill="#fff" stroke="#1e3b7c" stroke-width="0.55"/>
<circle cx="117.09" cy="320.30" r="1.6" fill="#fff" stroke="#1e3b7c" stroke-width="0.55"/>
<rect x="128.65" y="313.30" width="8.90" height="13.40" fill="#2a4a88" stroke="#1e3b7c" stroke-width="0.5" />
<circle cx="134.18" cy="313.30" r="1.6" fill="#fff" stroke="#1e3b7c" stroke-width="0.55"/>
<circle cx="133.86" cy="326.70" r="1.6" fill="#fff" stroke="#1e3b7c" stroke-width="0.55"/>
<circle cx="134.71" cy="323.89" r="1.6" fill="#fff" stroke="#1e3b7c" stroke-width="0.55"/>
<circle cx="132.55" cy="318.88" r="1.6" fill="#fff" stroke="#1e3b7c" stroke-width="0.55"/>
<circle cx="133.83" cy="315.88" r="1.6" fill="#fff" stroke="#1e3b7c" stroke-width="0.55"/>
<circle cx="130.76" cy="315.45" r="1.6" fill="#fff" stroke="#1e3b7c" stroke-width="0.55"/>
<circle cx="131.28" cy="316.97" r="1.6" fill="#fff" stroke="#1e3b7c" stroke-width="0.55"/>
<circle cx="130.68" cy="318.34" r="1.6" fill="#fff" stroke="#1e3b7c" stroke-width="0.55"/>
<circle cx="131.22" cy="314.80" r="1.6" fill="#fff" stroke="#1e3b7c" stroke-width="0.55"/>
<circle cx="132.36" cy="315.86" r="1.6" fill="#fff" stroke="#1e3b7c" stroke-width="0.55"/>
<rect x="156.65" y="325.05" width="7.50" height="9.90" fill="#fff" stroke="#9c0024" stroke-width="0.9" />
<circle cx="158.69" cy="325.05" r="1.6" fill="#fff" stroke="#9c0024" stroke-width="0.75"/>
<circle cx="161.75" cy="334.95" r="1.6" fill="#fff" stroke="#9c0024" stroke-width="0.75"/>
<circle cx="157.87" cy="330.79" r="1.6" fill="#fff" stroke="#9c0024" stroke-width="0.75"/>
<circle cx="159.30" cy="328.29" r="1.6" fill="#fff" stroke="#9c0024" stroke-width="0.75"/>
<circle cx="157.68" cy="329.06" r="1.6" fill="#fff" stroke="#9c0024" stroke-width="0.75"/>
<circle cx="163.95" cy="332.41" r="1.6" fill="#fff" stroke="#9c0024" stroke-width="0.75"/>
<circle cx="160.28" cy="329.77" r="1.6" fill="#fff" stroke="#9c0024" stroke-width="0.75"/>
<circle cx="157.54" cy="327.14" r="1.6" fill="#fff" stroke="#9c0024" stroke-width="0.75"/>
<circle cx="158.71" cy="328.91" r="1.6" fill="#fff" stroke="#9c0024" stroke-width="0.75"/>
<circle cx="157.96" cy="332.27" r="1.6" fill="#fff" stroke="#9c0024" stroke-width="0.75"/>
<circle cx="163.65" cy="326.71" r="1.6" fill="#fff" stroke="#9c0024" stroke-width="0.75"/>
<rect x="169.55" y="314.30" width="8.90" height="20.00" fill="#cf887c" stroke="#c47566" stroke-width="0.5" />
<circle cx="174.08" cy="314.30" r="1.6" fill="#fff" stroke="#c47566" stroke-width="0.55"/>
<circle cx="173.05" cy="334.30" r="1.6" fill="#fff" stroke="#c47566" stroke-width="0.55"/>
<circle cx="171.45" cy="325.03" r="1.6" fill="#fff" stroke="#c47566" stroke-width="0.55"/>
<circle cx="176.58" cy="324.78" r="1.6" fill="#fff" stroke="#c47566" stroke-width="0.55"/>
<circle cx="175.06" cy="330.48" r="1.6" fill="#fff" stroke="#c47566" stroke-width="0.55"/>
<circle cx="173.28" cy="320.24" r="1.6" fill="#fff" stroke="#c47566" stroke-width="0.55"/>
<circle cx="175.47" cy="318.64" r="1.6" fill="#fff" stroke="#c47566" stroke-width="0.55"/>
<circle cx="175.51" cy="324.85" r="1.6" fill="#fff" stroke="#c47566" stroke-width="0.55"/>
<circle cx="172.50" cy="321.40" r="1.6" fill="#fff" stroke="#c47566" stroke-width="0.55"/>
<circle cx="176.62" cy="329.60" r="1.6" fill="#fff" stroke="#c47566" stroke-width="0.55"/>
<rect x="183.15" y="310.70" width="8.90" height="24.90" fill="#cf887c" stroke="#c47566" stroke-width="0.5" />
<circle cx="188.55" cy="310.70" r="1.6" fill="#fff" stroke="#c47566" stroke-width="0.55"/>
<circle cx="188.43" cy="335.60" r="1.6" fill="#fff" stroke="#c47566" stroke-width="0.55"/>
<circle cx="188.90" cy="330.12" r="1.6" fill="#fff" stroke="#c47566" stroke-width="0.55"/>
<circle cx="187.70" cy="317.17" r="1.6" fill="#fff" stroke="#c47566" stroke-width="0.55"/>
<circle cx="185.06" cy="319.99" r="1.6" fill="#fff" stroke="#c47566" stroke-width="0.55"/>
<circle cx="186.41" cy="312.81" r="1.6" fill="#fff" stroke="#c47566" stroke-width="0.55"/>
<circle cx="188.64" cy="317.88" r="1.6" fill="#fff" stroke="#c47566" stroke-width="0.55"/>
<circle cx="187.32" cy="333.15" r="1.6" fill="#fff" stroke="#c47566" stroke-width="0.55"/>
<circle cx="190.24" cy="332.72" r="1.6" fill="#fff" stroke="#c47566" stroke-width="0.55"/>
<circle cx="186.87" cy="333.11" r="1.6" fill="#fff" stroke="#c47566" stroke-width="0.55"/>
<circle cx="186.12" cy="317.03" r="1.6" fill="#fff" stroke="#c47566" stroke-width="0.55"/>
<rect x="196.75" y="309.30" width="8.90" height="28.80" fill="#cf887c" stroke="#c47566" stroke-width="0.5" />
<circle cx="200.38" cy="309.30" r="1.6" fill="#fff" stroke="#c47566" stroke-width="0.55"/>
<circle cx="200.40" cy="338.10" r="1.6" fill="#fff" stroke="#c47566" stroke-width="0.55"/>
<circle cx="203.36" cy="326.90" r="1.6" fill="#fff" stroke="#c47566" stroke-width="0.55"/>
<circle cx="201.09" cy="332.48" r="1.6" fill="#fff" stroke="#c47566" stroke-width="0.55"/>
<circle cx="202.82" cy="327.65" r="1.6" fill="#fff" stroke="#c47566" stroke-width="0.55"/>
<circle cx="202.07" cy="312.99" r="1.6" fill="#fff" stroke="#c47566" stroke-width="0.55"/>
<circle cx="202.72" cy="334.27" r="1.6" fill="#fff" stroke="#c47566" stroke-width="0.55"/>
<circle cx="201.08" cy="330.15" r="1.6" fill="#fff" stroke="#c47566" stroke-width="0.55"/>
<circle cx="202.76" cy="315.41" r="1.6" fill="#fff" stroke="#c47566" stroke-width="0.55"/>
<circle cx="202.82" cy="319.38" r="1.6" fill="#fff" stroke="#c47566" stroke-width="0.55"/>
<rect x="210.35" y="305.30" width="8.90" height="10.90" fill="#a8062c" stroke="#9c0024" stroke-width="0.5" />
<circle cx="216.07" cy="305.30" r="1.6" fill="#fff" stroke="#9c0024" stroke-width="0.55"/>
<circle cx="214.52" cy="316.20" r="1.6" fill="#fff" stroke="#9c0024" stroke-width="0.55"/>
<circle cx="217.21" cy="309.97" r="1.6" fill="#fff" stroke="#9c0024" stroke-width="0.55"/>
<circle cx="213.02" cy="312.53" r="1.6" fill="#fff" stroke="#9c0024" stroke-width="0.55"/>
<circle cx="212.92" cy="307.80" r="1.6" fill="#fff" stroke="#9c0024" stroke-width="0.55"/>
<circle cx="216.46" cy="313.95" r="1.6" fill="#fff" stroke="#9c0024" stroke-width="0.55"/>
<circle cx="216.56" cy="307.95" r="1.6" fill="#fff" stroke="#9c0024" stroke-width="0.55"/>
<circle cx="215.65" cy="314.54" r="1.6" fill="#fff" stroke="#9c0024" stroke-width="0.55"/>
<circle cx="215.06" cy="309.57" r="1.6" fill="#fff" stroke="#9c0024" stroke-width="0.55"/>
<circle cx="212.18" cy="307.83" r="1.6" fill="#fff" stroke="#9c0024" stroke-width="0.55"/>
<circle cx="215.61" cy="314.47" r="1.6" fill="#fff" stroke="#9c0024" stroke-width="0.55"/>
<rect x="223.95" y="304.30" width="8.90" height="8.80" fill="#a8062c" stroke="#9c0024" stroke-width="0.5" />
<circle cx="228.47" cy="304.30" r="1.6" fill="#fff" stroke="#9c0024" stroke-width="0.55"/>
<circle cx="229.57" cy="313.10" r="1.6" fill="#fff" stroke="#9c0024" stroke-width="0.55"/>
<circle cx="230.41" cy="308.32" r="1.6" fill="#fff" stroke="#9c0024" stroke-width="0.55"/>
<circle cx="226.84" cy="310.59" r="1.6" fill="#fff" stroke="#9c0024" stroke-width="0.55"/>
<circle cx="227.28" cy="307.26" r="1.6" fill="#fff" stroke="#9c0024" stroke-width="0.55"/>
<circle cx="228.87" cy="307.20" r="1.6" fill="#fff" stroke="#9c0024" stroke-width="0.55"/>
<circle cx="227.96" cy="307.30" r="1.6" fill="#fff" stroke="#9c0024" stroke-width="0.55"/>
<circle cx="230.61" cy="306.56" r="1.6" fill="#fff" stroke="#9c0024" stroke-width="0.55"/>
<circle cx="228.17" cy="307.85" r="1.6" fill="#fff" stroke="#9c0024" stroke-width="0.55"/>
<circle cx="230.58" cy="309.18" r="1.6" fill="#fff" stroke="#9c0024" stroke-width="0.55"/>
<circle cx="230.66" cy="308.24" r="1.6" fill="#fff" stroke="#9c0024" stroke-width="0.55"/>
<rect x="237.55" y="305.70" width="8.90" height="8.60" fill="#a8062c" stroke="#9c0024" stroke-width="0.5" />
<circle cx="242.00" cy="305.70" r="1.6" fill="#fff" stroke="#9c0024" stroke-width="0.55"/>
<circle cx="242.09" cy="314.30" r="1.6" fill="#fff" stroke="#9c0024" stroke-width="0.55"/>
<circle cx="239.40" cy="310.13" r="1.6" fill="#fff" stroke="#9c0024" stroke-width="0.55"/>
<circle cx="240.29" cy="309.66" r="1.6" fill="#fff" stroke="#9c0024" stroke-width="0.55"/>
<circle cx="243.62" cy="307.22" r="1.6" fill="#fff" stroke="#9c0024" stroke-width="0.55"/>
<circle cx="241.86" cy="308.17" r="1.6" fill="#fff" stroke="#9c0024" stroke-width="0.55"/>
<circle cx="242.30" cy="311.26" r="1.6" fill="#fff" stroke="#9c0024" stroke-width="0.55"/>
<circle cx="242.10" cy="309.03" r="1.6" fill="#fff" stroke="#9c0024" stroke-width="0.55"/>
<circle cx="243.54" cy="310.31" r="1.6" fill="#fff" stroke="#9c0024" stroke-width="0.55"/>
<circle cx="242.33" cy="307.79" r="1.6" fill="#fff" stroke="#9c0024" stroke-width="0.55"/>
<line x1="51.50" y1="284.50" x2="160.40" y2="284.50" stroke="#2a2a2a" stroke-width="1.0"/>
<line x1="51.50" y1="282.70" x2="51.50" y2="286.30" stroke="#2a2a2a" stroke-width="1.0"/>
<line x1="160.40" y1="282.70" x2="160.40" y2="286.30" stroke="#2a2a2a" stroke-width="1.0"/>
<text x="106.00" y="282.60" font-size="8" text-anchor="middle" fill="#333" font-weight="normal" >ns</text>
<line x1="51.50" y1="293.50" x2="92.30" y2="293.50" stroke="#2a2a2a" stroke-width="1.0"/>
<line x1="51.50" y1="291.70" x2="51.50" y2="295.30" stroke="#2a2a2a" stroke-width="1.0"/>
<line x1="92.30" y1="291.70" x2="92.30" y2="295.30" stroke="#2a2a2a" stroke-width="1.0"/>
<text x="71.80" y="291.60" font-size="8" text-anchor="middle" fill="#333" font-weight="normal" >ns</text>
<line x1="51.50" y1="302.50" x2="78.60" y2="302.50" stroke="#2a2a2a" stroke-width="1.0"/>
<line x1="51.50" y1="300.70" x2="51.50" y2="304.30" stroke="#2a2a2a" stroke-width="1.0"/>
<line x1="78.60" y1="300.70" x2="78.60" y2="304.30" stroke="#2a2a2a" stroke-width="1.0"/>
<text x="65.00" y="300.20" font-size="8" text-anchor="middle" fill="#333" font-weight="normal" >ns</text>
<line x1="51.50" y1="311.50" x2="65.10" y2="311.50" stroke="#2a2a2a" stroke-width="1.0"/>
<line x1="51.50" y1="309.70" x2="51.50" y2="313.30" stroke="#2a2a2a" stroke-width="1.0"/>
<line x1="65.10" y1="309.70" x2="65.10" y2="313.30" stroke="#2a2a2a" stroke-width="1.0"/>
<text x="58.00" y="309.40" font-size="8" text-anchor="middle" fill="#333" font-weight="normal" >ns</text>
<line x1="160.40" y1="293.50" x2="201.20" y2="293.50" stroke="#2a2a2a" stroke-width="1.0"/>
<line x1="160.40" y1="291.70" x2="160.40" y2="295.30" stroke="#2a2a2a" stroke-width="1.0"/>
<line x1="201.20" y1="291.70" x2="201.20" y2="295.30" stroke="#2a2a2a" stroke-width="1.0"/>
<rect x="179.80" y="288.40" width="1.6" height="1.6" fill="#333"/>
<line x1="160.40" y1="302.50" x2="187.60" y2="302.50" stroke="#2a2a2a" stroke-width="1.0"/>
<line x1="160.40" y1="300.70" x2="160.40" y2="304.30" stroke="#2a2a2a" stroke-width="1.0"/>
<line x1="187.60" y1="300.70" x2="187.60" y2="304.30" stroke="#2a2a2a" stroke-width="1.0"/>
<text x="174.30" y="300.20" font-size="8" text-anchor="middle" fill="#333" font-weight="normal" >ns</text>
<line x1="160.40" y1="311.50" x2="174.00" y2="311.50" stroke="#2a2a2a" stroke-width="1.0"/>
<line x1="160.40" y1="309.70" x2="160.40" y2="313.30" stroke="#2a2a2a" stroke-width="1.0"/>
<line x1="174.00" y1="309.70" x2="174.00" y2="313.30" stroke="#2a2a2a" stroke-width="1.0"/>
<text x="167.40" y="309.40" font-size="8" text-anchor="middle" fill="#333" font-weight="normal" >ns</text>
<line x1="51.50" y1="344.50" x2="105.90" y2="344.50" stroke="#2a2a2a" stroke-width="1.0"/>
<line x1="51.50" y1="342.70" x2="51.50" y2="346.30" stroke="#2a2a2a" stroke-width="1.0"/>
<line x1="105.90" y1="342.70" x2="105.90" y2="346.30" stroke="#2a2a2a" stroke-width="1.0"/>
<text x="78.80" y="349.30" font-size="8" text-anchor="middle" fill="#333" font-weight="normal" >ns</text>
<line x1="51.50" y1="350.50" x2="119.50" y2="350.50" stroke="#2a2a2a" stroke-width="1.0"/>
<line x1="51.50" y1="348.70" x2="51.50" y2="352.30" stroke="#2a2a2a" stroke-width="1.0"/>
<line x1="119.50" y1="348.70" x2="119.50" y2="352.30" stroke="#2a2a2a" stroke-width="1.0"/>
<text x="85.10" y="356.00" font-size="8" text-anchor="middle" fill="#333" font-weight="normal" >ns</text>
<line x1="51.50" y1="357.50" x2="133.10" y2="357.50" stroke="#2a2a2a" stroke-width="1.0"/>
<line x1="51.50" y1="355.70" x2="51.50" y2="359.30" stroke="#2a2a2a" stroke-width="1.0"/>
<line x1="133.10" y1="355.70" x2="133.10" y2="359.30" stroke="#2a2a2a" stroke-width="1.0"/>
<text x="91.80" y="362.80" font-size="8" text-anchor="middle" fill="#333" font-weight="normal" >ns</text>
<line x1="160.40" y1="344.50" x2="214.80" y2="344.50" stroke="#2a2a2a" stroke-width="1.0"/>
<line x1="160.40" y1="342.70" x2="160.40" y2="346.30" stroke="#2a2a2a" stroke-width="1.0"/>
<line x1="214.80" y1="342.70" x2="214.80" y2="346.30" stroke="#2a2a2a" stroke-width="1.0"/>
<rect x="183.07" y="345.90" width="1.6" height="1.6" fill="#333"/>
<rect x="185.82" y="345.90" width="1.6" height="1.6" fill="#333"/>
<rect x="188.57" y="345.90" width="1.6" height="1.6" fill="#333"/>
<rect x="191.32" y="345.90" width="1.6" height="1.6" fill="#333"/>
<line x1="160.40" y1="350.50" x2="228.40" y2="350.50" stroke="#2a2a2a" stroke-width="1.0"/>
<line x1="160.40" y1="348.70" x2="160.40" y2="352.30" stroke="#2a2a2a" stroke-width="1.0"/>
<line x1="228.40" y1="348.70" x2="228.40" y2="352.30" stroke="#2a2a2a" stroke-width="1.0"/>
<rect x="189.67" y="352.60" width="1.6" height="1.6" fill="#333"/>
<rect x="192.42" y="352.60" width="1.6" height="1.6" fill="#333"/>
<rect x="195.17" y="352.60" width="1.6" height="1.6" fill="#333"/>
<rect x="197.92" y="352.60" width="1.6" height="1.6" fill="#333"/>
<line x1="160.40" y1="357.50" x2="242.00" y2="357.50" stroke="#2a2a2a" stroke-width="1.0"/>
<line x1="160.40" y1="355.70" x2="160.40" y2="359.30" stroke="#2a2a2a" stroke-width="1.0"/>
<line x1="242.00" y1="355.70" x2="242.00" y2="359.30" stroke="#2a2a2a" stroke-width="1.0"/>
<rect x="196.67" y="359.30" width="1.6" height="1.6" fill="#333"/>
<rect x="199.42" y="359.30" width="1.6" height="1.6" fill="#333"/>
<rect x="202.17" y="359.30" width="1.6" height="1.6" fill="#333"/>
<rect x="204.92" y="359.30" width="1.6" height="1.6" fill="#333"/>
<text transform="translate(54.40,369.00) rotate(-90)" font-size="8" text-anchor="end" fill="#222" >0 h</text>
<text transform="translate(68.00,369.00) rotate(-90)" font-size="8" text-anchor="end" fill="#222" >6 h</text>
<text transform="translate(81.60,369.00) rotate(-90)" font-size="8" text-anchor="end" fill="#222" >12 h</text>
<text transform="translate(95.20,369.00) rotate(-90)" font-size="8" text-anchor="end" fill="#222" >18 h</text>
<text transform="translate(108.80,369.00) rotate(-90)" font-size="8" text-anchor="end" fill="#222" >6 h</text>
<text transform="translate(122.40,369.00) rotate(-90)" font-size="8" text-anchor="end" fill="#222" >12 h</text>
<text transform="translate(136.00,369.00) rotate(-90)" font-size="8" text-anchor="end" fill="#222" >18 h</text>
<text transform="translate(163.30,369.00) rotate(-90)" font-size="8" text-anchor="end" fill="#222" >0 h</text>
<text transform="translate(176.90,369.00) rotate(-90)" font-size="8" text-anchor="end" fill="#222" >6 h</text>
<text transform="translate(190.50,369.00) rotate(-90)" font-size="8" text-anchor="end" fill="#222" >12 h</text>
<text transform="translate(204.10,369.00) rotate(-90)" font-size="8" text-anchor="end" fill="#222" >18 h</text>
<text transform="translate(217.70,369.00) rotate(-90)" font-size="8" text-anchor="end" fill="#222" >6 h</text>
<text transform="translate(231.30,369.00) rotate(-90)" font-size="8" text-anchor="end" fill="#222" >12 h</text>
<text transform="translate(244.90,369.00) rotate(-90)" font-size="8" text-anchor="end" fill="#222" >18 h</text>
<text transform="translate(16.40,326.50) rotate(-90)" font-size="8.6" text-anchor="middle" fill="#222" font-weight="bold" textLength="69" lengthAdjust="spacingAndGlyphs">% of fragmented cells</text>
<line x1="304.20" y1="287.30" x2="304.20" y2="363.70" stroke="#222" stroke-width="1.1"/>
<line x1="301.20" y1="290.40" x2="304.20" y2="290.40" stroke="#222" stroke-width="1.0"/>
<text x="297.60" y="293.30" font-size="8.4" text-anchor="end" fill="#222" font-weight="normal" >0.20</text>
<line x1="301.20" y1="308.60" x2="304.20" y2="308.60" stroke="#222" stroke-width="1.0"/>
<text x="297.60" y="311.50" font-size="8.4" text-anchor="end" fill="#222" font-weight="normal" >0.15</text>
<line x1="301.20" y1="326.90" x2="304.20" y2="326.90" stroke="#222" stroke-width="1.0"/>
<text x="297.60" y="329.80" font-size="8.4" text-anchor="end" fill="#222" font-weight="normal" >0.10</text>
<line x1="301.20" y1="345.20" x2="304.20" y2="345.20" stroke="#222" stroke-width="1.0"/>
<text x="297.60" y="348.10" font-size="8.4" text-anchor="end" fill="#222" font-weight="normal" >0.05</text>
<line x1="301.20" y1="363.50" x2="304.20" y2="363.50" stroke="#222" stroke-width="1.0"/>
<text x="297.60" y="366.40" font-size="8.4" text-anchor="end" fill="#222" font-weight="normal" >0.00</text>
<line x1="304.20" y1="363.60" x2="512.80" y2="363.60" stroke="#222" stroke-width="1.1"/>
<rect x="309.15" y="334.30" width="7.50" height="6.30" fill="#fff" stroke="#1e3b7c" stroke-width="0.9" />
<circle cx="311.99" cy="334.30" r="1.6" fill="#fff" stroke="#1e3b7c" stroke-width="0.75"/>
<circle cx="312.10" cy="340.60" r="1.6" fill="#fff" stroke="#1e3b7c" stroke-width="0.75"/>
<circle cx="312.96" cy="338.35" r="1.6" fill="#fff" stroke="#1e3b7c" stroke-width="0.75"/>
<circle cx="314.77" cy="337.65" r="1.6" fill="#fff" stroke="#1e3b7c" stroke-width="0.75"/>
<circle cx="312.49" cy="338.81" r="1.6" fill="#fff" stroke="#1e3b7c" stroke-width="0.75"/>
<circle cx="312.94" cy="337.82" r="1.6" fill="#fff" stroke="#1e3b7c" stroke-width="0.75"/>
<circle cx="314.29" cy="337.49" r="1.6" fill="#fff" stroke="#1e3b7c" stroke-width="0.75"/>
<circle cx="313.14" cy="337.29" r="1.6" fill="#fff" stroke="#1e3b7c" stroke-width="0.75"/>
<circle cx="316.08" cy="337.38" r="1.6" fill="#fff" stroke="#1e3b7c" stroke-width="0.75"/>
<circle cx="315.61" cy="338.11" r="1.6" fill="#fff" stroke="#1e3b7c" stroke-width="0.75"/>
<rect x="322.15" y="320.05" width="8.90" height="19.25" fill="#8c98c6" stroke="#7c89bd" stroke-width="0.5" />
<circle cx="327.79" cy="320.05" r="1.6" fill="#fff" stroke="#7c89bd" stroke-width="0.55"/>
<circle cx="325.95" cy="339.30" r="1.6" fill="#fff" stroke="#7c89bd" stroke-width="0.55"/>
<circle cx="328.99" cy="330.64" r="1.6" fill="#fff" stroke="#7c89bd" stroke-width="0.55"/>
<circle cx="324.64" cy="335.20" r="1.6" fill="#fff" stroke="#7c89bd" stroke-width="0.55"/>
<circle cx="326.29" cy="323.53" r="1.6" fill="#fff" stroke="#7c89bd" stroke-width="0.55"/>
<circle cx="325.20" cy="322.73" r="1.6" fill="#fff" stroke="#7c89bd" stroke-width="0.55"/>
<circle cx="327.52" cy="322.74" r="1.6" fill="#fff" stroke="#7c89bd" stroke-width="0.55"/>
<circle cx="328.74" cy="334.29" r="1.6" fill="#fff" stroke="#7c89bd" stroke-width="0.55"/>
<circle cx="327.77" cy="324.06" r="1.6" fill="#fff" stroke="#7c89bd" stroke-width="0.55"/>
<circle cx="324.67" cy="332.28" r="1.6" fill="#fff" stroke="#7c89bd" stroke-width="0.55"/>
<rect x="335.85" y="316.70" width="8.90" height="19.75" fill="#8c98c6" stroke="#7c89bd" stroke-width="0.5" />
<circle cx="341.33" cy="316.70" r="1.6" fill="#fff" stroke="#7c89bd" stroke-width="0.55"/>
<circle cx="341.56" cy="336.45" r="1.6" fill="#fff" stroke="#7c89bd" stroke-width="0.55"/>
<circle cx="342.74" cy="321.88" r="1.6" fill="#fff" stroke="#7c89bd" stroke-width="0.55"/>
<circle cx="340.23" cy="324.87" r="1.6" fill="#fff" stroke="#7c89bd" stroke-width="0.55"/>
<circle cx="342.10" cy="334.78" r="1.6" fill="#fff" stroke="#7c89bd" stroke-width="0.55"/>
<circle cx="339.93" cy="320.90" r="1.6" fill="#fff" stroke="#7c89bd" stroke-width="0.55"/>
<circle cx="339.43" cy="326.84" r="1.6" fill="#fff" stroke="#7c89bd" stroke-width="0.55"/>
<circle cx="339.32" cy="321.48" r="1.6" fill="#fff" stroke="#7c89bd" stroke-width="0.55"/>
<circle cx="337.71" cy="330.30" r="1.6" fill="#fff" stroke="#7c89bd" stroke-width="0.55"/>
<circle cx="339.98" cy="327.48" r="1.6" fill="#fff" stroke="#7c89bd" stroke-width="0.55"/>
<rect x="349.55" y="318.55" width="8.90" height="17.05" fill="#8c98c6" stroke="#7c89bd" stroke-width="0.5" />
<circle cx="352.70" cy="318.55" r="1.6" fill="#fff" stroke="#7c89bd" stroke-width="0.55"/>
<circle cx="353.55" cy="335.60" r="1.6" fill="#fff" stroke="#7c89bd" stroke-width="0.55"/>
<circle cx="354.07" cy="328.82" r="1.6" fill="#fff" stroke="#7c89bd" stroke-width="0.55"/>
<circle cx="356.62" cy="320.95" r="1.6" fill="#fff" stroke="#7c89bd" stroke-width="0.55"/>
<circle cx="356.55" cy="331.13" r="1.6" fill="#fff" stroke="#7c89bd" stroke-width="0.55"/>
<circle cx="352.73" cy="321.52" r="1.6" fill="#fff" stroke="#7c89bd" stroke-width="0.55"/>
<circle cx="355.51" cy="320.61" r="1.6" fill="#fff" stroke="#7c89bd" stroke-width="0.55"/>
<circle cx="352.00" cy="323.85" r="1.6" fill="#fff" stroke="#7c89bd" stroke-width="0.55"/>
<circle cx="356.22" cy="325.98" r="1.6" fill="#fff" stroke="#7c89bd" stroke-width="0.55"/>
<circle cx="352.70" cy="331.56" r="1.6" fill="#fff" stroke="#7c89bd" stroke-width="0.55"/>
<rect x="363.25" y="319.30" width="8.90" height="17.50" fill="#2a4a88" stroke="#1e3b7c" stroke-width="0.5" />
<circle cx="366.75" cy="319.30" r="1.6" fill="#fff" stroke="#1e3b7c" stroke-width="0.55"/>
<circle cx="368.83" cy="336.80" r="1.6" fill="#fff" stroke="#1e3b7c" stroke-width="0.55"/>
<circle cx="368.78" cy="329.07" r="1.6" fill="#fff" stroke="#1e3b7c" stroke-width="0.55"/>
<circle cx="365.31" cy="322.10" r="1.6" fill="#fff" stroke="#1e3b7c" stroke-width="0.55"/>
<circle cx="367.30" cy="330.78" r="1.6" fill="#fff" stroke="#1e3b7c" stroke-width="0.55"/>
<circle cx="370.07" cy="321.85" r="1.6" fill="#fff" stroke="#1e3b7c" stroke-width="0.55"/>
<circle cx="369.33" cy="330.00" r="1.6" fill="#fff" stroke="#1e3b7c" stroke-width="0.55"/>
<circle cx="369.62" cy="322.01" r="1.6" fill="#fff" stroke="#1e3b7c" stroke-width="0.55"/>
<circle cx="369.66" cy="321.77" r="1.6" fill="#fff" stroke="#1e3b7c" stroke-width="0.55"/>
<circle cx="366.83" cy="327.38" r="1.6" fill="#fff" stroke="#1e3b7c" stroke-width="0.55"/>
<circle cx="370.00" cy="328.82" r="1.6" fill="#fff" stroke="#1e3b7c" stroke-width="0.55"/>
<rect x="376.95" y="321.30" width="8.90" height="12.40" fill="#2a4a88" stroke="#1e3b7c" stroke-width="0.5" />
<circle cx="380.77" cy="321.30" r="1.6" fill="#fff" stroke="#1e3b7c" stroke-width="0.55"/>
<circle cx="380.40" cy="333.70" r="1.6" fill="#fff" stroke="#1e3b7c" stroke-width="0.55"/>
<circle cx="379.99" cy="327.75" r="1.6" fill="#fff" stroke="#1e3b7c" stroke-width="0.55"/>
<circle cx="379.57" cy="323.83" r="1.6" fill="#fff" stroke="#1e3b7c" stroke-width="0.55"/>
<circle cx="379.79" cy="323.27" r="1.6" fill="#fff" stroke="#1e3b7c" stroke-width="0.55"/>
<circle cx="380.35" cy="325.73" r="1.6" fill="#fff" stroke="#1e3b7c" stroke-width="0.55"/>
<circle cx="380.27" cy="329.94" r="1.6" fill="#fff" stroke="#1e3b7c" stroke-width="0.55"/>
<circle cx="379.66" cy="327.50" r="1.6" fill="#fff" stroke="#1e3b7c" stroke-width="0.55"/>
<circle cx="378.80" cy="326.06" r="1.6" fill="#fff" stroke="#1e3b7c" stroke-width="0.55"/>
<circle cx="378.78" cy="325.15" r="1.6" fill="#fff" stroke="#1e3b7c" stroke-width="0.55"/>
<rect x="390.65" y="323.80" width="8.90" height="7.90" fill="#2a4a88" stroke="#1e3b7c" stroke-width="0.5" />
<circle cx="395.73" cy="323.80" r="1.6" fill="#fff" stroke="#1e3b7c" stroke-width="0.55"/>
<circle cx="395.24" cy="331.70" r="1.6" fill="#fff" stroke="#1e3b7c" stroke-width="0.55"/>
<circle cx="394.96" cy="326.23" r="1.6" fill="#fff" stroke="#1e3b7c" stroke-width="0.55"/>
<circle cx="392.97" cy="329.88" r="1.6" fill="#fff" stroke="#1e3b7c" stroke-width="0.55"/>
<circle cx="394.73" cy="329.31" r="1.6" fill="#fff" stroke="#1e3b7c" stroke-width="0.55"/>
<circle cx="396.91" cy="327.73" r="1.6" fill="#fff" stroke="#1e3b7c" stroke-width="0.55"/>
<circle cx="395.14" cy="327.23" r="1.6" fill="#fff" stroke="#1e3b7c" stroke-width="0.55"/>
<circle cx="397.71" cy="328.67" r="1.6" fill="#fff" stroke="#1e3b7c" stroke-width="0.55"/>
<circle cx="396.89" cy="326.98" r="1.6" fill="#fff" stroke="#1e3b7c" stroke-width="0.55"/>
<rect x="418.75" y="325.70" width="7.50" height="11.50" fill="#fff" stroke="#9c0024" stroke-width="0.9" />
<circle cx="423.24" cy="325.70" r="1.6" fill="#fff" stroke="#9c0024" stroke-width="0.75"/>
<circle cx="422.99" cy="337.20" r="1.6" fill="#fff" stroke="#9c0024" stroke-width="0.75"/>
<circle cx="421.40" cy="330.64" r="1.6" fill="#fff" stroke="#9c0024" stroke-width="0.75"/>
<circle cx="419.83" cy="327.66" r="1.6" fill="#fff" stroke="#9c0024" stroke-width="0.75"/>
<circle cx="424.23" cy="327.80" r="1.6" fill="#fff" stroke="#9c0024" stroke-width="0.75"/>
<circle cx="420.08" cy="329.37" r="1.6" fill="#fff" stroke="#9c0024" stroke-width="0.75"/>
<circle cx="424.96" cy="327.92" r="1.6" fill="#fff" stroke="#9c0024" stroke-width="0.75"/>
<circle cx="423.73" cy="334.60" r="1.6" fill="#fff" stroke="#9c0024" stroke-width="0.75"/>
<rect x="431.75" y="305.05" width="8.90" height="33.90" fill="#cf887c" stroke="#c47566" stroke-width="0.5" />
<circle cx="435.61" cy="305.05" r="1.6" fill="#fff" stroke="#c47566" stroke-width="0.55"/>
<circle cx="435.50" cy="338.95" r="1.6" fill="#fff" stroke="#c47566" stroke-width="0.55"/>
<circle cx="435.98" cy="315.61" r="1.6" fill="#fff" stroke="#c47566" stroke-width="0.55"/>
<circle cx="435.91" cy="311.42" r="1.6" fill="#fff" stroke="#c47566" stroke-width="0.55"/>
<circle cx="438.69" cy="314.68" r="1.6" fill="#fff" stroke="#c47566" stroke-width="0.55"/>
<circle cx="436.45" cy="336.60" r="1.6" fill="#fff" stroke="#c47566" stroke-width="0.55"/>
<circle cx="438.71" cy="314.10" r="1.6" fill="#fff" stroke="#c47566" stroke-width="0.55"/>
<circle cx="435.43" cy="316.12" r="1.6" fill="#fff" stroke="#c47566" stroke-width="0.55"/>
<circle cx="435.56" cy="306.58" r="1.6" fill="#fff" stroke="#c47566" stroke-width="0.55"/>
<circle cx="436.21" cy="321.22" r="1.6" fill="#fff" stroke="#c47566" stroke-width="0.55"/>
<circle cx="436.23" cy="312.76" r="1.6" fill="#fff" stroke="#c47566" stroke-width="0.55"/>
<rect x="445.45" y="307.80" width="8.90" height="28.40" fill="#cf887c" stroke="#c47566" stroke-width="0.5" />
<circle cx="448.56" cy="307.80" r="1.6" fill="#fff" stroke="#c47566" stroke-width="0.55"/>
<circle cx="449.26" cy="336.20" r="1.6" fill="#fff" stroke="#c47566" stroke-width="0.55"/>
<circle cx="449.36" cy="311.58" r="1.6" fill="#fff" stroke="#c47566" stroke-width="0.55"/>
<circle cx="447.32" cy="310.36" r="1.6" fill="#fff" stroke="#c47566" stroke-width="0.55"/>
<circle cx="448.46" cy="317.03" r="1.6" fill="#fff" stroke="#c47566" stroke-width="0.55"/>
<circle cx="450.06" cy="324.17" r="1.6" fill="#fff" stroke="#c47566" stroke-width="0.55"/>
<circle cx="450.75" cy="328.36" r="1.6" fill="#fff" stroke="#c47566" stroke-width="0.55"/>
<circle cx="451.95" cy="327.49" r="1.6" fill="#fff" stroke="#c47566" stroke-width="0.55"/>
<circle cx="448.96" cy="319.19" r="1.6" fill="#fff" stroke="#c47566" stroke-width="0.55"/>
<circle cx="448.01" cy="334.31" r="1.6" fill="#fff" stroke="#c47566" stroke-width="0.55"/>
<circle cx="450.67" cy="327.69" r="1.6" fill="#fff" stroke="#c47566" stroke-width="0.55"/>
<rect x="459.15" y="318.20" width="8.90" height="14.00" fill="#cf887c" stroke="#c47566" stroke-width="0.5" />
<circle cx="462.37" cy="318.20" r="1.6" fill="#fff" stroke="#c47566" stroke-width="0.55"/>
<circle cx="464.51" cy="332.20" r="1.6" fill="#fff" stroke="#c47566" stroke-width="0.55"/>
<circle cx="464.29" cy="329.51" r="1.6" fill="#fff" stroke="#c47566" stroke-width="0.55"/>
<circle cx="465.29" cy="327.77" r="1.6" fill="#fff" stroke="#c47566" stroke-width="0.55"/>
<circle cx="463.73" cy="321.23" r="1.6" fill="#fff" stroke="#c47566" stroke-width="0.55"/>
<circle cx="465.41" cy="325.25" r="1.6" fill="#fff" stroke="#c47566" stroke-width="0.55"/>
<circle cx="465.36" cy="328.55" r="1.6" fill="#fff" stroke="#c47566" stroke-width="0.55"/>
<circle cx="465.72" cy="326.12" r="1.6" fill="#fff" stroke="#c47566" stroke-width="0.55"/>
<circle cx="464.64" cy="327.21" r="1.6" fill="#fff" stroke="#c47566" stroke-width="0.55"/>
<rect x="472.85" y="321.30" width="8.90" height="19.30" fill="#a8062c" stroke="#9c0024" stroke-width="0.5" />
<circle cx="476.57" cy="321.30" r="1.6" fill="#fff" stroke="#9c0024" stroke-width="0.55"/>
<circle cx="476.03" cy="340.60" r="1.6" fill="#fff" stroke="#9c0024" stroke-width="0.55"/>
<circle cx="476.55" cy="324.97" r="1.6" fill="#fff" stroke="#9c0024" stroke-width="0.55"/>
<circle cx="479.11" cy="324.51" r="1.6" fill="#fff" stroke="#9c0024" stroke-width="0.55"/>
<circle cx="477.99" cy="331.90" r="1.6" fill="#fff" stroke="#9c0024" stroke-width="0.55"/>
<circle cx="478.28" cy="333.01" r="1.6" fill="#fff" stroke="#9c0024" stroke-width="0.55"/>
<circle cx="474.62" cy="330.78" r="1.6" fill="#fff" stroke="#9c0024" stroke-width="0.55"/>
<circle cx="478.64" cy="335.80" r="1.6" fill="#fff" stroke="#9c0024" stroke-width="0.55"/>
<circle cx="477.49" cy="331.00" r="1.6" fill="#fff" stroke="#9c0024" stroke-width="0.55"/>
<circle cx="474.96" cy="333.55" r="1.6" fill="#fff" stroke="#9c0024" stroke-width="0.55"/>
<circle cx="475.96" cy="334.81" r="1.6" fill="#fff" stroke="#9c0024" stroke-width="0.55"/>
<rect x="486.55" y="323.20" width="8.90" height="18.25" fill="#a8062c" stroke="#9c0024" stroke-width="0.5" />
<circle cx="489.85" cy="323.20" r="1.6" fill="#fff" stroke="#9c0024" stroke-width="0.55"/>
<circle cx="490.37" cy="341.45" r="1.6" fill="#fff" stroke="#9c0024" stroke-width="0.55"/>
<circle cx="489.41" cy="335.82" r="1.6" fill="#fff" stroke="#9c0024" stroke-width="0.55"/>
<circle cx="493.57" cy="335.98" r="1.6" fill="#fff" stroke="#9c0024" stroke-width="0.55"/>
<circle cx="490.37" cy="332.23" r="1.6" fill="#fff" stroke="#9c0024" stroke-width="0.55"/>
<circle cx="491.99" cy="332.00" r="1.6" fill="#fff" stroke="#9c0024" stroke-width="0.55"/>
<circle cx="491.63" cy="336.40" r="1.6" fill="#fff" stroke="#9c0024" stroke-width="0.55"/>
<circle cx="488.72" cy="334.50" r="1.6" fill="#fff" stroke="#9c0024" stroke-width="0.55"/>
<circle cx="489.67" cy="326.95" r="1.6" fill="#fff" stroke="#9c0024" stroke-width="0.55"/>
<circle cx="489.94" cy="336.03" r="1.6" fill="#fff" stroke="#9c0024" stroke-width="0.55"/>
<circle cx="488.37" cy="333.36" r="1.6" fill="#fff" stroke="#9c0024" stroke-width="0.55"/>
<rect x="500.25" y="337.55" width="8.90" height="5.55" fill="#a8062c" stroke="#9c0024" stroke-width="0.5" />
<circle cx="503.51" cy="337.55" r="1.6" fill="#fff" stroke="#9c0024" stroke-width="0.55"/>
<circle cx="504.08" cy="343.10" r="1.6" fill="#fff" stroke="#9c0024" stroke-width="0.55"/>
<circle cx="505.74" cy="340.76" r="1.6" fill="#fff" stroke="#9c0024" stroke-width="0.55"/>
<circle cx="503.57" cy="340.77" r="1.6" fill="#fff" stroke="#9c0024" stroke-width="0.55"/>
<circle cx="504.51" cy="340.37" r="1.6" fill="#fff" stroke="#9c0024" stroke-width="0.55"/>
<circle cx="502.64" cy="340.24" r="1.6" fill="#fff" stroke="#9c0024" stroke-width="0.55"/>
<circle cx="503.08" cy="341.33" r="1.6" fill="#fff" stroke="#9c0024" stroke-width="0.55"/>
<circle cx="507.06" cy="341.54" r="1.6" fill="#fff" stroke="#9c0024" stroke-width="0.55"/>
<circle cx="504.48" cy="339.09" r="1.6" fill="#fff" stroke="#9c0024" stroke-width="0.55"/>
<line x1="312.90" y1="294.50" x2="354.00" y2="294.50" stroke="#2a2a2a" stroke-width="1.0"/>
<line x1="312.90" y1="292.70" x2="312.90" y2="296.30" stroke="#2a2a2a" stroke-width="1.0"/>
<line x1="354.00" y1="292.70" x2="354.00" y2="296.30" stroke="#2a2a2a" stroke-width="1.0"/>
<rect x="332.70" y="289.80" width="1.6" height="1.6" fill="#333"/>
<line x1="312.90" y1="305.50" x2="340.30" y2="305.50" stroke="#2a2a2a" stroke-width="1.0"/>
<line x1="312.90" y1="303.70" x2="312.90" y2="307.30" stroke="#2a2a2a" stroke-width="1.0"/>
<line x1="340.30" y1="303.70" x2="340.30" y2="307.30" stroke="#2a2a2a" stroke-width="1.0"/>
<text x="326.70" y="303.60" font-size="8" text-anchor="middle" fill="#333" font-weight="normal" >ns</text>
<line x1="312.90" y1="315.50" x2="326.60" y2="315.50" stroke="#2a2a2a" stroke-width="1.0"/>
<line x1="312.90" y1="313.70" x2="312.90" y2="317.30" stroke="#2a2a2a" stroke-width="1.0"/>
<line x1="326.60" y1="313.70" x2="326.60" y2="317.30" stroke="#2a2a2a" stroke-width="1.0"/>
<text x="319.80" y="314.10" font-size="8" text-anchor="middle" fill="#333" font-weight="normal" >ns</text>
<line x1="422.50" y1="292.50" x2="504.60" y2="292.50" stroke="#2a2a2a" stroke-width="1.0"/>
<line x1="422.50" y1="290.70" x2="422.50" y2="294.30" stroke="#2a2a2a" stroke-width="1.0"/>
<line x1="504.60" y1="290.70" x2="504.60" y2="294.30" stroke="#2a2a2a" stroke-width="1.0"/>
<rect x="461.43" y="287.00" width="1.6" height="1.6" fill="#333"/>
<rect x="464.18" y="287.00" width="1.6" height="1.6" fill="#333"/>
<line x1="449.90" y1="302.50" x2="504.60" y2="302.50" stroke="#2a2a2a" stroke-width="1.0"/>
<line x1="449.90" y1="300.70" x2="449.90" y2="304.30" stroke="#2a2a2a" stroke-width="1.0"/>
<line x1="504.60" y1="300.70" x2="504.60" y2="304.30" stroke="#2a2a2a" stroke-width="1.0"/>
<rect x="473.85" y="297.70" width="1.6" height="1.6" fill="#333"/>
<rect x="476.60" y="297.70" width="1.6" height="1.6" fill="#333"/>
<rect x="479.35" y="297.70" width="1.6" height="1.6" fill="#333"/>
<line x1="463.60" y1="313.50" x2="504.60" y2="313.50" stroke="#2a2a2a" stroke-width="1.0"/>
<line x1="463.60" y1="311.70" x2="463.60" y2="315.30" stroke="#2a2a2a" stroke-width="1.0"/>
<line x1="504.60" y1="311.70" x2="504.60" y2="315.30" stroke="#2a2a2a" stroke-width="1.0"/>
<rect x="482.22" y="308.00" width="1.6" height="1.6" fill="#333"/>
<rect x="484.97" y="308.00" width="1.6" height="1.6" fill="#333"/>
<line x1="312.90" y1="345.50" x2="367.80" y2="345.50" stroke="#2a2a2a" stroke-width="1.0"/>
<line x1="312.90" y1="343.70" x2="312.90" y2="347.30" stroke="#2a2a2a" stroke-width="1.0"/>
<line x1="367.80" y1="343.70" x2="367.80" y2="347.30" stroke="#2a2a2a" stroke-width="1.0"/>
<rect x="339.80" y="347.00" width="1.6" height="1.6" fill="#333"/>
<line x1="312.90" y1="351.50" x2="381.40" y2="351.50" stroke="#2a2a2a" stroke-width="1.0"/>
<line x1="312.90" y1="349.70" x2="312.90" y2="353.30" stroke="#2a2a2a" stroke-width="1.0"/>
<line x1="381.40" y1="349.70" x2="381.40" y2="353.30" stroke="#2a2a2a" stroke-width="1.0"/>
<rect x="346.10" y="353.00" width="1.6" height="1.6" fill="#333"/>
<line x1="312.90" y1="357.50" x2="395.10" y2="357.50" stroke="#2a2a2a" stroke-width="1.0"/>
<line x1="312.90" y1="355.70" x2="312.90" y2="359.30" stroke="#2a2a2a" stroke-width="1.0"/>
<line x1="395.10" y1="355.70" x2="395.10" y2="359.30" stroke="#2a2a2a" stroke-width="1.0"/>
<rect x="353.90" y="359.20" width="1.6" height="1.6" fill="#333"/>
<line x1="422.50" y1="345.50" x2="463.60" y2="345.50" stroke="#2a2a2a" stroke-width="1.0"/>
<line x1="422.50" y1="343.70" x2="422.50" y2="347.30" stroke="#2a2a2a" stroke-width="1.0"/>
<line x1="463.60" y1="343.70" x2="463.60" y2="347.30" stroke="#2a2a2a" stroke-width="1.0"/>
<rect x="442.10" y="346.80" width="1.6" height="1.6" fill="#333"/>
<line x1="395.10" y1="351.50" x2="504.60" y2="351.50" stroke="#2a2a2a" stroke-width="1.0"/>
<line x1="395.10" y1="349.70" x2="395.10" y2="353.30" stroke="#2a2a2a" stroke-width="1.0"/>
<line x1="504.60" y1="349.70" x2="504.60" y2="353.30" stroke="#2a2a2a" stroke-width="1.0"/>
<rect x="445.38" y="353.20" width="1.6" height="1.6" fill="#333"/>
<rect x="448.12" y="353.20" width="1.6" height="1.6" fill="#333"/>
<rect x="450.88" y="353.20" width="1.6" height="1.6" fill="#333"/>
<rect x="453.62" y="353.20" width="1.6" height="1.6" fill="#333"/>
<text transform="translate(315.80,369.20) rotate(-90)" font-size="8" text-anchor="end" fill="#222" >0 h</text>
<text transform="translate(329.50,369.20) rotate(-90)" font-size="8" text-anchor="end" fill="#222" >6 h</text>
<text transform="translate(343.20,369.20) rotate(-90)" font-size="8" text-anchor="end" fill="#222" >12 h</text>
<text transform="translate(356.90,369.20) rotate(-90)" font-size="8" text-anchor="end" fill="#222" >18 h</text>
<text transform="translate(370.60,369.20) rotate(-90)" font-size="8" text-anchor="end" fill="#222" >6 h</text>
<text transform="translate(384.30,369.20) rotate(-90)" font-size="8" text-anchor="end" fill="#222" >12 h</text>
<text transform="translate(398.00,369.20) rotate(-90)" font-size="8" text-anchor="end" fill="#222" >18 h</text>
<text transform="translate(425.40,369.20) rotate(-90)" font-size="8" text-anchor="end" fill="#222" >0 h</text>
<text transform="translate(439.10,369.20) rotate(-90)" font-size="8" text-anchor="end" fill="#222" >6 h</text>
<text transform="translate(452.80,369.20) rotate(-90)" font-size="8" text-anchor="end" fill="#222" >12 h</text>
<text transform="translate(466.50,369.20) rotate(-90)" font-size="8" text-anchor="end" fill="#222" >18 h</text>
<text transform="translate(480.20,369.20) rotate(-90)" font-size="8" text-anchor="end" fill="#222" >6 h</text>
<text transform="translate(493.90,369.20) rotate(-90)" font-size="8" text-anchor="end" fill="#222" >12 h</text>
<text transform="translate(507.60,369.20) rotate(-90)" font-size="8" text-anchor="end" fill="#222" >18 h</text>
<text transform="translate(276.00,325.50) rotate(-90)" font-size="8.6" text-anchor="middle" fill="#222" font-weight="bold" textLength="84.5" lengthAdjust="spacingAndGlyphs">TMRM intensity (SD/mean)</text>
<rect x="71.50" y="395.80" width="7.60" height="4.80" fill="#fff" stroke="#1e3b7c" stroke-width="1.2" />
<text x="82.20" y="401.10" font-size="8" text-anchor="start" fill="#222" font-weight="normal" >NKBr</text>
<rect x="110.90" y="395.20" width="8.60" height="6.00" fill="#8c98c6" stroke="none" stroke-width="0" />
<text x="122.20" y="401.10" font-size="8" text-anchor="start" fill="#222" font-weight="normal" >NKBr+IL-15</text>
<rect x="172.10" y="395.20" width="8.60" height="6.00" fill="#2a4a88" stroke="none" stroke-width="0" />
<text x="183.40" y="401.10" font-size="8" text-anchor="start" fill="#222" font-weight="normal" >NKBr+IL-15-12-18</text>
<rect x="257.00" y="395.80" width="7.60" height="4.80" fill="#fff" stroke="#9c0024" stroke-width="1.2" />
<text x="267.70" y="401.10" font-size="8" text-anchor="start" fill="#222" font-weight="normal" >NKDim</text>
<rect x="301.40" y="395.20" width="8.60" height="6.00" fill="#cf887c" stroke="none" stroke-width="0" />
<text x="312.70" y="401.10" font-size="8" text-anchor="start" fill="#222" font-weight="normal" >NKDim+IL-15</text>
<rect x="368.30" y="395.20" width="8.60" height="6.00" fill="#a8062c" stroke="none" stroke-width="0" />
<text x="379.60" y="401.10" font-size="8" text-anchor="start" fill="#222" font-weight="normal" >NKDim+IL-15-12-18</text>
<line x1="42.90" y1="451.30" x2="42.90" y2="523.90" stroke="#222" stroke-width="1.1"/>
<line x1="39.90" y1="454.40" x2="42.90" y2="454.40" stroke="#222" stroke-width="1.0"/>
<text x="36.30" y="457.30" font-size="8.4" text-anchor="end" fill="#222" font-weight="normal" >150</text>
<line x1="39.90" y1="477.50" x2="42.90" y2="477.50" stroke="#222" stroke-width="1.0"/>
<text x="36.30" y="480.40" font-size="8.4" text-anchor="end" fill="#222" font-weight="normal" >100</text>
<line x1="39.90" y1="500.60" x2="42.90" y2="500.60" stroke="#222" stroke-width="1.0"/>
<text x="36.30" y="503.50" font-size="8.4" text-anchor="end" fill="#222" font-weight="normal" >50</text>
<line x1="39.90" y1="523.75" x2="42.90" y2="523.75" stroke="#222" stroke-width="1.0"/>
<text x="36.30" y="526.65" font-size="8.4" text-anchor="end" fill="#222" font-weight="normal" >0</text>
<line x1="42.90" y1="523.80" x2="143.20" y2="523.80" stroke="#222" stroke-width="1.1"/>
<rect x="46.50" y="510.70" width="7.00" height="7.75" fill="#8c98c6" stroke="#7c89bd" stroke-width="0.5" />
<circle cx="50.70" cy="510.70" r="1.5" fill="#fff" stroke="#7c89bd" stroke-width="0.55"/>
<circle cx="51.03" cy="518.45" r="1.5" fill="#fff" stroke="#7c89bd" stroke-width="0.55"/>
<circle cx="48.98" cy="514.33" r="1.5" fill="#fff" stroke="#7c89bd" stroke-width="0.55"/>
<circle cx="51.96" cy="513.20" r="1.5" fill="#fff" stroke="#7c89bd" stroke-width="0.55"/>
<circle cx="50.36" cy="513.20" r="1.5" fill="#fff" stroke="#7c89bd" stroke-width="0.55"/>
<circle cx="50.11" cy="512.87" r="1.5" fill="#fff" stroke="#7c89bd" stroke-width="0.55"/>
<rect x="57.30" y="506.55" width="7.00" height="12.75" fill="#8c98c6" stroke="#7c89bd" stroke-width="0.5" />
<circle cx="61.80" cy="506.55" r="1.5" fill="#fff" stroke="#7c89bd" stroke-width="0.55"/>
<circle cx="59.99" cy="519.30" r="1.5" fill="#fff" stroke="#7c89bd" stroke-width="0.55"/>
<circle cx="60.84" cy="516.05" r="1.5" fill="#fff" stroke="#7c89bd" stroke-width="0.55"/>
<circle cx="61.69" cy="516.70" r="1.5" fill="#fff" stroke="#7c89bd" stroke-width="0.55"/>
<circle cx="62.55" cy="510.31" r="1.5" fill="#fff" stroke="#7c89bd" stroke-width="0.55"/>
<circle cx="58.71" cy="512.79" r="1.5" fill="#fff" stroke="#7c89bd" stroke-width="0.55"/>
<rect x="68.05" y="478.80" width="7.00" height="13.65" fill="#2a4a88" stroke="#1e3b7c" stroke-width="0.5" />
<circle cx="70.46" cy="478.80" r="1.5" fill="#fff" stroke="#1e3b7c" stroke-width="0.55"/>
<circle cx="71.53" cy="492.45" r="1.5" fill="#fff" stroke="#1e3b7c" stroke-width="0.55"/>
<circle cx="70.68" cy="485.10" r="1.5" fill="#fff" stroke="#1e3b7c" stroke-width="0.55"/>
<circle cx="70.86" cy="481.80" r="1.5" fill="#fff" stroke="#1e3b7c" stroke-width="0.55"/>
<circle cx="73.05" cy="483.67" r="1.5" fill="#fff" stroke="#1e3b7c" stroke-width="0.55"/>
<circle cx="72.65" cy="480.32" r="1.5" fill="#fff" stroke="#1e3b7c" stroke-width="0.55"/>
<rect x="78.90" y="481.30" width="7.00" height="8.00" fill="#2a4a88" stroke="#1e3b7c" stroke-width="0.5" />
<circle cx="83.15" cy="481.30" r="1.5" fill="#fff" stroke="#1e3b7c" stroke-width="0.55"/>
<circle cx="81.56" cy="489.30" r="1.5" fill="#fff" stroke="#1e3b7c" stroke-width="0.55"/>
<circle cx="83.34" cy="487.43" r="1.5" fill="#fff" stroke="#1e3b7c" stroke-width="0.55"/>
<circle cx="81.48" cy="487.31" r="1.5" fill="#fff" stroke="#1e3b7c" stroke-width="0.55"/>
<circle cx="81.93" cy="484.66" r="1.5" fill="#fff" stroke="#1e3b7c" stroke-width="0.55"/>
<circle cx="82.79" cy="487.79" r="1.5" fill="#fff" stroke="#1e3b7c" stroke-width="0.55"/>
<rect x="100.10" y="521.55" width="7.00" height="1.55" fill="#cf887c" stroke="#c47566" stroke-width="0.5" />
<circle cx="103.29" cy="521.55" r="1.5" fill="#fff" stroke="#c47566" stroke-width="0.55"/>
<circle cx="103.44" cy="523.10" r="1.5" fill="#fff" stroke="#c47566" stroke-width="0.55"/>
<circle cx="102.61" cy="522.33" r="1.5" fill="#fff" stroke="#c47566" stroke-width="0.55"/>
<circle cx="101.61" cy="522.33" r="1.5" fill="#fff" stroke="#c47566" stroke-width="0.55"/>
<circle cx="101.85" cy="522.33" r="1.5" fill="#fff" stroke="#c47566" stroke-width="0.55"/>
<rect x="110.90" y="496.90" width="7.00" height="22.40" fill="#cf887c" stroke="#c47566" stroke-width="0.5" />
<circle cx="115.14" cy="496.90" r="1.5" fill="#fff" stroke="#c47566" stroke-width="0.55"/>
<circle cx="113.93" cy="519.30" r="1.5" fill="#fff" stroke="#c47566" stroke-width="0.55"/>
<circle cx="113.30" cy="516.55" r="1.5" fill="#fff" stroke="#c47566" stroke-width="0.55"/>
<circle cx="114.45" cy="503.56" r="1.5" fill="#fff" stroke="#c47566" stroke-width="0.55"/>
<circle cx="113.84" cy="502.08" r="1.5" fill="#fff" stroke="#c47566" stroke-width="0.55"/>
<circle cx="116.09" cy="516.95" r="1.5" fill="#fff" stroke="#c47566" stroke-width="0.55"/>
<rect x="121.80" y="492.55" width="7.00" height="12.65" fill="#a8062c" stroke="#9c0024" stroke-width="0.5" />
<circle cx="125.99" cy="492.55" r="1.5" fill="#fff" stroke="#9c0024" stroke-width="0.55"/>
<circle cx="125.59" cy="505.20" r="1.5" fill="#fff" stroke="#9c0024" stroke-width="0.55"/>
<circle cx="127.24" cy="502.86" r="1.5" fill="#fff" stroke="#9c0024" stroke-width="0.55"/>
<circle cx="126.27" cy="499.35" r="1.5" fill="#fff" stroke="#9c0024" stroke-width="0.55"/>
<circle cx="126.32" cy="494.53" r="1.5" fill="#fff" stroke="#9c0024" stroke-width="0.55"/>
<circle cx="126.41" cy="498.40" r="1.5" fill="#fff" stroke="#9c0024" stroke-width="0.55"/>
<rect x="132.60" y="481.30" width="7.00" height="12.15" fill="#a8062c" stroke="#9c0024" stroke-width="0.5" />
<circle cx="136.42" cy="481.30" r="1.5" fill="#fff" stroke="#9c0024" stroke-width="0.55"/>
<circle cx="135.63" cy="493.45" r="1.5" fill="#fff" stroke="#9c0024" stroke-width="0.55"/>
<circle cx="137.98" cy="483.25" r="1.5" fill="#fff" stroke="#9c0024" stroke-width="0.55"/>
<circle cx="135.98" cy="483.96" r="1.5" fill="#fff" stroke="#9c0024" stroke-width="0.55"/>
<circle cx="135.21" cy="485.94" r="1.5" fill="#fff" stroke="#9c0024" stroke-width="0.55"/>
<circle cx="138.20" cy="489.56" r="1.5" fill="#fff" stroke="#9c0024" stroke-width="0.55"/>
<line x1="50.00" y1="474.50" x2="71.55" y2="474.50" stroke="#2a2a2a" stroke-width="1.0"/>
<line x1="50.00" y1="472.70" x2="50.00" y2="476.30" stroke="#2a2a2a" stroke-width="1.0"/>
<line x1="71.55" y1="472.70" x2="71.55" y2="476.30" stroke="#2a2a2a" stroke-width="1.0"/>
<rect x="55.83" y="471.10" width="1.6" height="1.6" fill="#333"/>
<rect x="58.58" y="471.10" width="1.6" height="1.6" fill="#333"/>
<rect x="61.33" y="471.10" width="1.6" height="1.6" fill="#333"/>
<rect x="64.08" y="471.10" width="1.6" height="1.6" fill="#333"/>
<line x1="60.80" y1="466.50" x2="82.40" y2="466.50" stroke="#2a2a2a" stroke-width="1.0"/>
<line x1="60.80" y1="464.70" x2="60.80" y2="468.30" stroke="#2a2a2a" stroke-width="1.0"/>
<line x1="82.40" y1="464.70" x2="82.40" y2="468.30" stroke="#2a2a2a" stroke-width="1.0"/>
<rect x="66.67" y="462.30" width="1.6" height="1.6" fill="#333"/>
<rect x="69.42" y="462.30" width="1.6" height="1.6" fill="#333"/>
<rect x="72.17" y="462.30" width="1.6" height="1.6" fill="#333"/>
<rect x="74.92" y="462.30" width="1.6" height="1.6" fill="#333"/>
<line x1="71.55" y1="457.50" x2="125.30" y2="457.50" stroke="#2a2a2a" stroke-width="1.0"/>
<line x1="71.55" y1="455.70" x2="71.55" y2="459.30" stroke="#2a2a2a" stroke-width="1.0"/>
<line x1="125.30" y1="455.70" x2="125.30" y2="459.30" stroke="#2a2a2a" stroke-width="1.0"/>
<rect x="96.23" y="453.70" width="1.6" height="1.6" fill="#333"/>
<rect x="98.98" y="453.70" width="1.6" height="1.6" fill="#333"/>
<line x1="71.55" y1="449.50" x2="136.10" y2="449.50" stroke="#2a2a2a" stroke-width="1.0"/>
<line x1="71.55" y1="447.70" x2="71.55" y2="451.30" stroke="#2a2a2a" stroke-width="1.0"/>
<line x1="136.10" y1="447.70" x2="136.10" y2="451.30" stroke="#2a2a2a" stroke-width="1.0"/>
<text x="103.80" y="448.40" font-size="8" text-anchor="middle" fill="#333" font-weight="normal" >ns</text>
<line x1="125.30" y1="466.50" x2="136.10" y2="466.50" stroke="#2a2a2a" stroke-width="1.0"/>
<line x1="125.30" y1="464.70" x2="125.30" y2="468.30" stroke="#2a2a2a" stroke-width="1.0"/>
<line x1="136.10" y1="464.70" x2="136.10" y2="468.30" stroke="#2a2a2a" stroke-width="1.0"/>
<rect x="129.60" y="462.30" width="1.6" height="1.6" fill="#333"/>
<line x1="114.40" y1="474.50" x2="136.10" y2="474.50" stroke="#2a2a2a" stroke-width="1.0"/>
<line x1="114.40" y1="472.70" x2="114.40" y2="476.30" stroke="#2a2a2a" stroke-width="1.0"/>
<line x1="136.10" y1="472.70" x2="136.10" y2="476.30" stroke="#2a2a2a" stroke-width="1.0"/>
<rect x="123.03" y="471.10" width="1.6" height="1.6" fill="#333"/>
<rect x="125.78" y="471.10" width="1.6" height="1.6" fill="#333"/>
<line x1="103.60" y1="483.50" x2="125.30" y2="483.50" stroke="#2a2a2a" stroke-width="1.0"/>
<line x1="103.60" y1="481.70" x2="103.60" y2="485.30" stroke="#2a2a2a" stroke-width="1.0"/>
<line x1="125.30" y1="481.70" x2="125.30" y2="485.30" stroke="#2a2a2a" stroke-width="1.0"/>
<rect x="109.58" y="479.80" width="1.6" height="1.6" fill="#333"/>
<rect x="112.33" y="479.80" width="1.6" height="1.6" fill="#333"/>
<rect x="115.08" y="479.80" width="1.6" height="1.6" fill="#333"/>
<rect x="117.83" y="479.80" width="1.6" height="1.6" fill="#333"/>
<line x1="103.60" y1="491.50" x2="114.40" y2="491.50" stroke="#2a2a2a" stroke-width="1.0"/>
<line x1="103.60" y1="489.70" x2="103.60" y2="493.30" stroke="#2a2a2a" stroke-width="1.0"/>
<line x1="114.40" y1="489.70" x2="114.40" y2="493.30" stroke="#2a2a2a" stroke-width="1.0"/>
<rect x="108.20" y="488.00" width="1.6" height="1.6" fill="#333"/>
<text transform="translate(52.90,526.80) rotate(-90)" font-size="8" text-anchor="end" fill="#222" >Ctrl</text>
<text transform="translate(63.70,526.80) rotate(-90)" font-size="8" text-anchor="end" fill="#222" >Mdivi1</text>
<text transform="translate(74.45,526.80) rotate(-90)" font-size="8" text-anchor="end" fill="#222" >Ctrl</text>
<text transform="translate(85.30,526.80) rotate(-90)" font-size="8" text-anchor="end" fill="#222" >Mdivi1</text>
<text transform="translate(106.50,526.80) rotate(-90)" font-size="8" text-anchor="end" fill="#222" >Ctrl</text>
<text transform="translate(117.30,526.80) rotate(-90)" font-size="8" text-anchor="end" fill="#222" >Mdivi1</text>
<text transform="translate(128.20,526.80) rotate(-90)" font-size="8" text-anchor="end" fill="#222" >Ctrl</text>
<text transform="translate(139.00,526.80) rotate(-90)" font-size="8" text-anchor="end" fill="#222" >Mdivi1</text>
<text transform="translate(16.00,487.50) rotate(-90)" font-size="8.6" text-anchor="middle" fill="#222" font-weight="bold" textLength="39" lengthAdjust="spacingAndGlyphs">% IFN<tspan font-size="6.5" dy="1.6">γ</tspan><tspan dy="-1.6"> cells</tspan></text>
<line x1="198.10" y1="452.80" x2="198.10" y2="491.30" stroke="#222" stroke-width="1.1"/>
<line x1="198.10" y1="496.90" x2="198.10" y2="524.10" stroke="#222" stroke-width="1.1"/>
<line x1="195.10" y1="491.30" x2="201.50" y2="491.30" stroke="#222" stroke-width="1.0"/>
<line x1="195.10" y1="496.90" x2="201.50" y2="496.90" stroke="#222" stroke-width="1.0"/>
<line x1="195.10" y1="455.40" x2="198.10" y2="455.40" stroke="#222" stroke-width="1.0"/>
<text x="191.50" y="458.30" font-size="8.4" text-anchor="end" fill="#222" font-weight="normal" >15000</text>
<line x1="195.10" y1="468.60" x2="198.10" y2="468.60" stroke="#222" stroke-width="1.0"/>
<text x="191.50" y="471.50" font-size="8.4" text-anchor="end" fill="#222" font-weight="normal" >10000</text>
<line x1="195.10" y1="481.60" x2="198.10" y2="481.60" stroke="#222" stroke-width="1.0"/>
<text x="191.50" y="484.50" font-size="8.4" text-anchor="end" fill="#222" font-weight="normal" >5000</text>
<line x1="195.10" y1="497.10" x2="198.10" y2="497.10" stroke="#222" stroke-width="1.0"/>
<text x="191.50" y="500.00" font-size="8.4" text-anchor="end" fill="#222" font-weight="normal" >1000</text>
<line x1="195.10" y1="510.50" x2="198.10" y2="510.50" stroke="#222" stroke-width="1.0"/>
<text x="191.50" y="513.40" font-size="8.4" text-anchor="end" fill="#222" font-weight="normal" >500</text>
<line x1="195.10" y1="523.90" x2="198.10" y2="523.90" stroke="#222" stroke-width="1.0"/>
<text x="191.50" y="526.80" font-size="8.4" text-anchor="end" fill="#222" font-weight="normal" >0</text>
<line x1="198.10" y1="523.90" x2="300.70" y2="523.90" stroke="#222" stroke-width="1.1"/>
<rect x="202.10" y="501.30" width="7.00" height="12.65" fill="#8c98c6" stroke="#7c89bd" stroke-width="0.5" />
<circle cx="205.07" cy="501.30" r="1.5" fill="#fff" stroke="#7c89bd" stroke-width="0.55"/>
<circle cx="205.94" cy="513.95" r="1.5" fill="#fff" stroke="#7c89bd" stroke-width="0.55"/>
<circle cx="205.85" cy="505.70" r="1.5" fill="#fff" stroke="#7c89bd" stroke-width="0.55"/>
<circle cx="204.14" cy="506.61" r="1.5" fill="#fff" stroke="#7c89bd" stroke-width="0.55"/>
<circle cx="204.31" cy="504.36" r="1.5" fill="#fff" stroke="#7c89bd" stroke-width="0.55"/>
<circle cx="205.59" cy="511.54" r="1.5" fill="#fff" stroke="#7c89bd" stroke-width="0.55"/>
<circle cx="207.39" cy="504.92" r="1.5" fill="#fff" stroke="#7c89bd" stroke-width="0.55"/>
<rect x="213.00" y="501.30" width="7.00" height="9.90" fill="#8c98c6" stroke="#7c89bd" stroke-width="0.5" />
<circle cx="217.59" cy="501.30" r="1.5" fill="#fff" stroke="#7c89bd" stroke-width="0.55"/>
<circle cx="216.39" cy="511.20" r="1.5" fill="#fff" stroke="#7c89bd" stroke-width="0.55"/>
<circle cx="215.15" cy="503.76" r="1.5" fill="#fff" stroke="#7c89bd" stroke-width="0.55"/>
<circle cx="215.80" cy="503.43" r="1.5" fill="#fff" stroke="#7c89bd" stroke-width="0.55"/>
<circle cx="215.35" cy="503.43" r="1.5" fill="#fff" stroke="#7c89bd" stroke-width="0.55"/>
<circle cx="216.81" cy="504.58" r="1.5" fill="#fff" stroke="#7c89bd" stroke-width="0.55"/>
<circle cx="217.60" cy="508.92" r="1.5" fill="#fff" stroke="#7c89bd" stroke-width="0.55"/>
<rect x="223.90" y="470.05" width="7.00" height="9.90" fill="#2a4a88" stroke="#1e3b7c" stroke-width="0.5" />
<circle cx="227.21" cy="470.05" r="1.5" fill="#fff" stroke="#1e3b7c" stroke-width="0.55"/>
<circle cx="227.21" cy="479.95" r="1.5" fill="#fff" stroke="#1e3b7c" stroke-width="0.55"/>
<circle cx="226.86" cy="475.17" r="1.5" fill="#fff" stroke="#1e3b7c" stroke-width="0.55"/>
<circle cx="225.47" cy="473.88" r="1.5" fill="#fff" stroke="#1e3b7c" stroke-width="0.55"/>
<circle cx="229.46" cy="473.46" r="1.5" fill="#fff" stroke="#1e3b7c" stroke-width="0.55"/>
<circle cx="227.41" cy="472.42" r="1.5" fill="#fff" stroke="#1e3b7c" stroke-width="0.55"/>
<rect x="234.90" y="469.80" width="7.00" height="14.50" fill="#2a4a88" stroke="#1e3b7c" stroke-width="0.5" />
<circle cx="238.69" cy="469.80" r="1.5" fill="#fff" stroke="#1e3b7c" stroke-width="0.55"/>
<circle cx="239.20" cy="484.30" r="1.5" fill="#fff" stroke="#1e3b7c" stroke-width="0.55"/>
<circle cx="237.39" cy="473.78" r="1.5" fill="#fff" stroke="#1e3b7c" stroke-width="0.55"/>
<circle cx="237.96" cy="474.16" r="1.5" fill="#fff" stroke="#1e3b7c" stroke-width="0.55"/>
<circle cx="240.40" cy="476.43" r="1.5" fill="#fff" stroke="#1e3b7c" stroke-width="0.55"/>
<circle cx="240.04" cy="481.06" r="1.5" fill="#fff" stroke="#1e3b7c" stroke-width="0.55"/>
<circle cx="236.34" cy="471.55" r="1.5" fill="#fff" stroke="#1e3b7c" stroke-width="0.55"/>
<rect x="256.50" y="510.30" width="7.00" height="9.65" fill="#cf887c" stroke="#c47566" stroke-width="0.5" />
<circle cx="260.46" cy="510.30" r="1.5" fill="#fff" stroke="#c47566" stroke-width="0.55"/>
<circle cx="260.87" cy="519.95" r="1.5" fill="#fff" stroke="#c47566" stroke-width="0.55"/>
<circle cx="260.38" cy="514.95" r="1.5" fill="#fff" stroke="#c47566" stroke-width="0.55"/>
<circle cx="259.52" cy="511.80" r="1.5" fill="#fff" stroke="#c47566" stroke-width="0.55"/>
<circle cx="261.43" cy="517.96" r="1.5" fill="#fff" stroke="#c47566" stroke-width="0.55"/>
<circle cx="262.08" cy="517.49" r="1.5" fill="#fff" stroke="#c47566" stroke-width="0.55"/>
<rect x="267.50" y="498.20" width="7.00" height="13.60" fill="#cf887c" stroke="#c47566" stroke-width="0.5" />
<circle cx="270.45" cy="498.20" r="1.5" fill="#fff" stroke="#c47566" stroke-width="0.55"/>
<circle cx="270.14" cy="511.80" r="1.5" fill="#fff" stroke="#c47566" stroke-width="0.55"/>
<circle cx="271.10" cy="501.34" r="1.5" fill="#fff" stroke="#c47566" stroke-width="0.55"/>
<circle cx="272.94" cy="506.93" r="1.5" fill="#fff" stroke="#c47566" stroke-width="0.55"/>
<circle cx="271.65" cy="507.35" r="1.5" fill="#fff" stroke="#c47566" stroke-width="0.55"/>
<circle cx="270.81" cy="507.81" r="1.5" fill="#fff" stroke="#c47566" stroke-width="0.55"/>
<rect x="278.30" y="480.70" width="7.00" height="6.10" fill="#a8062c" stroke="#9c0024" stroke-width="0.5" />
<circle cx="281.91" cy="480.70" r="1.5" fill="#fff" stroke="#9c0024" stroke-width="0.55"/>
<circle cx="280.79" cy="486.80" r="1.5" fill="#fff" stroke="#9c0024" stroke-width="0.55"/>
<circle cx="280.62" cy="484.63" r="1.5" fill="#fff" stroke="#9c0024" stroke-width="0.55"/>
<circle cx="282.44" cy="485.05" r="1.5" fill="#fff" stroke="#9c0024" stroke-width="0.55"/>
<circle cx="280.16" cy="483.14" r="1.5" fill="#fff" stroke="#9c0024" stroke-width="0.55"/>
<circle cx="282.40" cy="482.98" r="1.5" fill="#fff" stroke="#9c0024" stroke-width="0.55"/>
<rect x="289.30" y="470.70" width="7.00" height="11.10" fill="#a8062c" stroke="#9c0024" stroke-width="0.5" />
<circle cx="293.24" cy="470.70" r="1.5" fill="#fff" stroke="#9c0024" stroke-width="0.55"/>
<circle cx="291.95" cy="481.80" r="1.5" fill="#fff" stroke="#9c0024" stroke-width="0.55"/>
<circle cx="292.91" cy="472.77" r="1.5" fill="#fff" stroke="#9c0024" stroke-width="0.55"/>
<circle cx="292.31" cy="476.92" r="1.5" fill="#fff" stroke="#9c0024" stroke-width="0.55"/>
<circle cx="293.24" cy="474.01" r="1.5" fill="#fff" stroke="#9c0024" stroke-width="0.55"/>
<circle cx="291.93" cy="472.28" r="1.5" fill="#fff" stroke="#9c0024" stroke-width="0.55"/>
<line x1="205.60" y1="465.50" x2="227.40" y2="465.50" stroke="#2a2a2a" stroke-width="1.0"/>
<line x1="205.60" y1="463.70" x2="205.60" y2="467.30" stroke="#2a2a2a" stroke-width="1.0"/>
<line x1="227.40" y1="463.70" x2="227.40" y2="467.30" stroke="#2a2a2a" stroke-width="1.0"/>
<rect x="211.57" y="461.50" width="1.6" height="1.6" fill="#333"/>
<rect x="214.32" y="461.50" width="1.6" height="1.6" fill="#333"/>
<rect x="217.07" y="461.50" width="1.6" height="1.6" fill="#333"/>
<rect x="219.82" y="461.50" width="1.6" height="1.6" fill="#333"/>
<line x1="216.50" y1="456.50" x2="238.40" y2="456.50" stroke="#2a2a2a" stroke-width="1.0"/>
<line x1="216.50" y1="454.70" x2="216.50" y2="458.30" stroke="#2a2a2a" stroke-width="1.0"/>
<line x1="238.40" y1="454.70" x2="238.40" y2="458.30" stroke="#2a2a2a" stroke-width="1.0"/>
<rect x="222.27" y="452.70" width="1.6" height="1.6" fill="#333"/>
<rect x="225.02" y="452.70" width="1.6" height="1.6" fill="#333"/>
<rect x="227.77" y="452.70" width="1.6" height="1.6" fill="#333"/>
<rect x="230.52" y="452.70" width="1.6" height="1.6" fill="#333"/>
<line x1="227.40" y1="447.50" x2="281.80" y2="447.50" stroke="#2a2a2a" stroke-width="1.0"/>
<line x1="227.40" y1="445.70" x2="227.40" y2="449.30" stroke="#2a2a2a" stroke-width="1.0"/>
<line x1="281.80" y1="445.70" x2="281.80" y2="449.30" stroke="#2a2a2a" stroke-width="1.0"/>
<rect x="259.20" y="444.00" width="1.6" height="1.6" fill="#333"/>
<line x1="227.40" y1="440.50" x2="292.80" y2="440.50" stroke="#2a2a2a" stroke-width="1.0"/>
<line x1="227.40" y1="438.70" x2="227.40" y2="442.30" stroke="#2a2a2a" stroke-width="1.0"/>
<line x1="292.80" y1="438.70" x2="292.80" y2="442.30" stroke="#2a2a2a" stroke-width="1.0"/>
<text x="260.00" y="439.00" font-size="8" text-anchor="middle" fill="#333" font-weight="normal" >ns</text>
<line x1="281.80" y1="456.50" x2="292.80" y2="456.50" stroke="#2a2a2a" stroke-width="1.0"/>
<line x1="281.80" y1="454.70" x2="281.80" y2="458.30" stroke="#2a2a2a" stroke-width="1.0"/>
<line x1="292.80" y1="454.70" x2="292.80" y2="458.30" stroke="#2a2a2a" stroke-width="1.0"/>
<rect x="286.50" y="452.30" width="1.6" height="1.6" fill="#333"/>
<line x1="271.00" y1="464.50" x2="292.80" y2="464.50" stroke="#2a2a2a" stroke-width="1.0"/>
<line x1="271.00" y1="462.70" x2="271.00" y2="466.30" stroke="#2a2a2a" stroke-width="1.0"/>
<line x1="292.80" y1="462.70" x2="292.80" y2="466.30" stroke="#2a2a2a" stroke-width="1.0"/>
<rect x="277.07" y="461.50" width="1.6" height="1.6" fill="#333"/>
<rect x="279.82" y="461.50" width="1.6" height="1.6" fill="#333"/>
<rect x="282.57" y="461.50" width="1.6" height="1.6" fill="#333"/>
<rect x="285.32" y="461.50" width="1.6" height="1.6" fill="#333"/>
<line x1="260.00" y1="476.50" x2="281.80" y2="476.50" stroke="#2a2a2a" stroke-width="1.0"/>
<line x1="260.00" y1="474.70" x2="260.00" y2="478.30" stroke="#2a2a2a" stroke-width="1.0"/>
<line x1="281.80" y1="474.70" x2="281.80" y2="478.30" stroke="#2a2a2a" stroke-width="1.0"/>
<rect x="266.07" y="473.00" width="1.6" height="1.6" fill="#333"/>
<rect x="268.82" y="473.00" width="1.6" height="1.6" fill="#333"/>
<rect x="271.57" y="473.00" width="1.6" height="1.6" fill="#333"/>
<rect x="274.32" y="473.00" width="1.6" height="1.6" fill="#333"/>
<text transform="translate(208.50,527.20) rotate(-90)" font-size="8" text-anchor="end" fill="#222" >Ctrl</text>
<text transform="translate(219.40,527.20) rotate(-90)" font-size="8" text-anchor="end" fill="#222" >Mdivi1</text>
<text transform="translate(230.30,527.20) rotate(-90)" font-size="8" text-anchor="end" fill="#222" >Ctrl</text>
<text transform="translate(241.30,527.20) rotate(-90)" font-size="8" text-anchor="end" fill="#222" >Mdivi1</text>
<text transform="translate(262.90,527.20) rotate(-90)" font-size="8" text-anchor="end" fill="#222" >Ctrl</text>
<text transform="translate(273.90,527.20) rotate(-90)" font-size="8" text-anchor="end" fill="#222" >Mdivi1</text>
<text transform="translate(284.70,527.20) rotate(-90)" font-size="8" text-anchor="end" fill="#222" >Ctrl</text>
<text transform="translate(295.70,527.20) rotate(-90)" font-size="8" text-anchor="end" fill="#222" >Mdivi1</text>
<text transform="translate(161.00,488.00) rotate(-90)" font-size="8.6" text-anchor="middle" fill="#222" font-weight="bold" textLength="29" lengthAdjust="spacingAndGlyphs">IFN<tspan font-size="6.5" dy="1.6">γ</tspan><tspan dy="-1.6"> MFI</tspan></text>
<rect x="315.00" y="479.60" width="8.80" height="5.90" fill="#8c98c6" stroke="none" stroke-width="0" />
<text x="326.60" y="485.20" font-size="8" text-anchor="start" fill="#222" font-weight="normal" >NKBr+IL-15</text>
<rect x="382.00" y="479.60" width="8.80" height="5.90" fill="#2a4a88" stroke="none" stroke-width="0" />
<text x="393.60" y="485.20" font-size="8" text-anchor="start" fill="#222" font-weight="normal" >NKBr+IL-15-12-18</text>
<rect x="315.00" y="491.20" width="8.80" height="5.90" fill="#cf887c" stroke="none" stroke-width="0" />
<text x="326.60" y="496.80" font-size="8" text-anchor="start" fill="#222" font-weight="normal" >NKDim+IL-15</text>
<rect x="382.00" y="491.20" width="8.80" height="5.90" fill="#a8062c" stroke="none" stroke-width="0" />
<text x="393.60" y="496.80" font-size="8" text-anchor="start" fill="#222" font-weight="normal" >NKDim+IL-15-12-18</text>
<rect x="0.5" y="0.5" width="519" height="557" fill="none" stroke="#000" stroke-width="1.2"/></svg>
</body></html>
